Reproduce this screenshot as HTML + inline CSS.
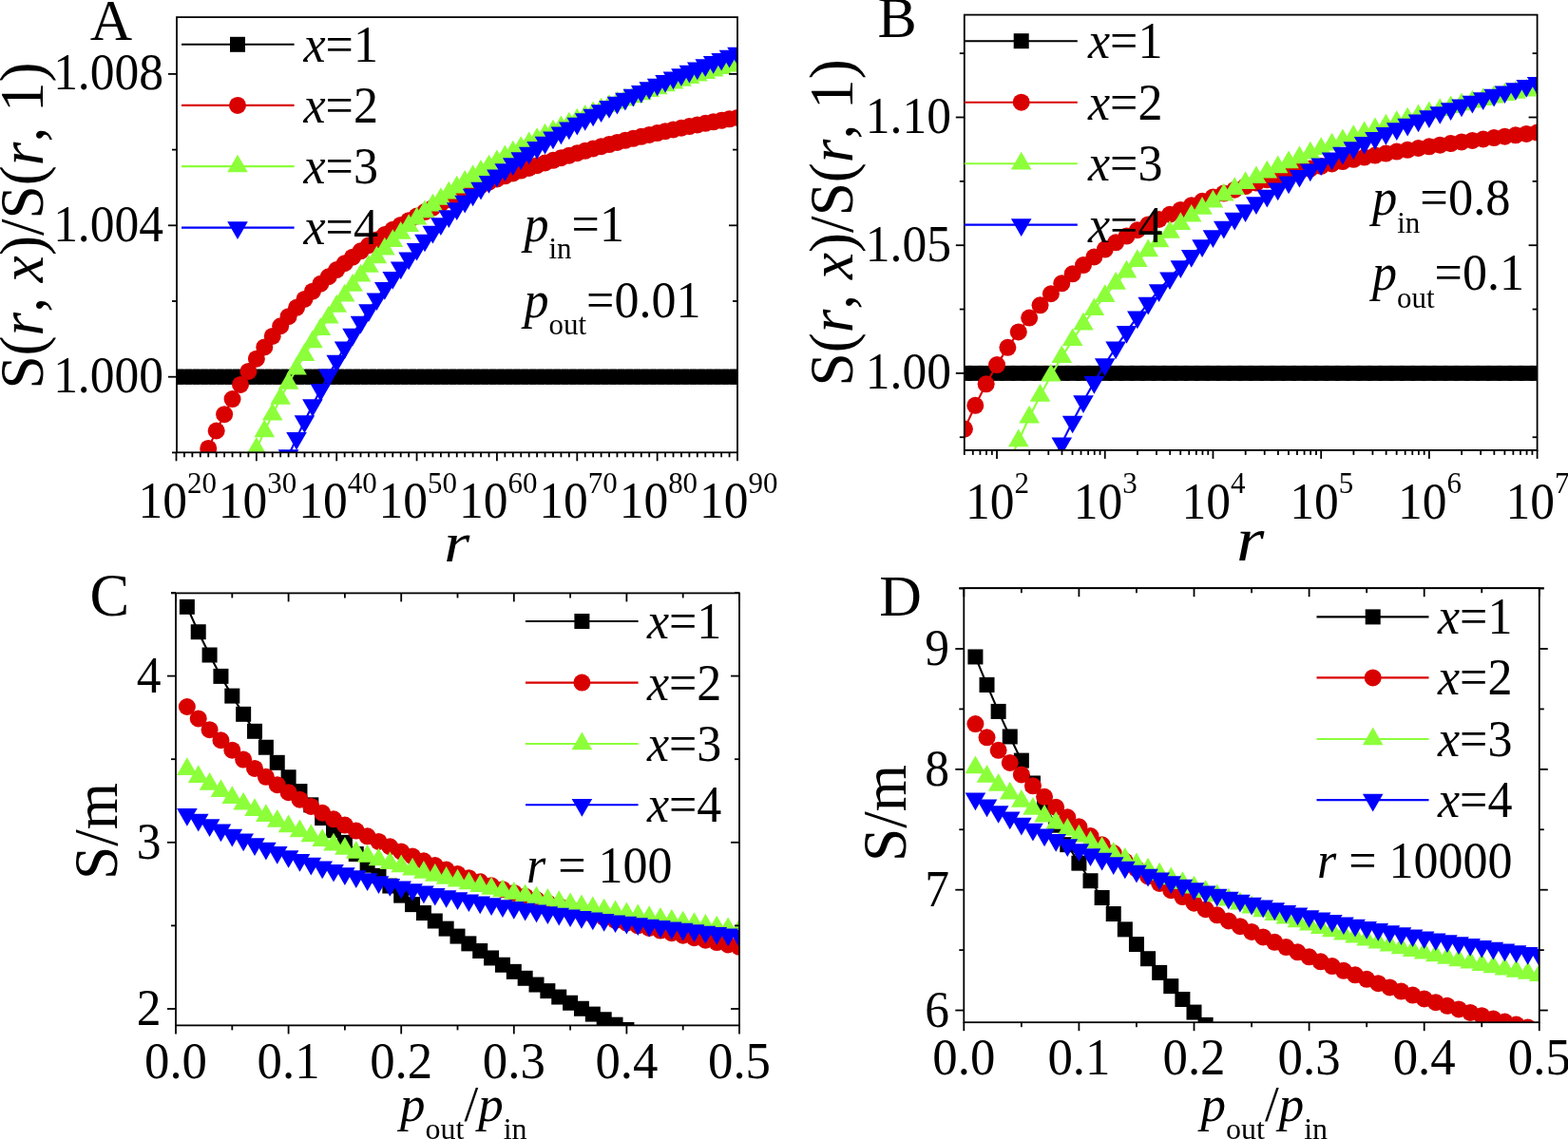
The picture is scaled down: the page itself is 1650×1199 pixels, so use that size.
<!DOCTYPE html>
<html><head><meta charset="utf-8"><title>Figure</title><style>html,body{margin:0;padding:0;background:#fff;overflow:hidden}svg{display:block}</style></head><body>
<svg width="1650" height="1199" viewBox="0 0 1650 1199" font-family="'Liberation Serif','Times New Roman',serif">
<defs>
<clipPath id="cA"><rect x="186" y="18.1" width="590" height="458.2"/></clipPath>
<clipPath id="cB"><rect x="1014.8" y="15.6" width="602.8" height="458.3"/></clipPath>
<clipPath id="cC"><rect x="185" y="624.4" width="593" height="455"/></clipPath>
<clipPath id="cD"><rect x="1014.3" y="619.2" width="605.5" height="457"/></clipPath>
</defs>
<rect width="1650" height="1199" fill="#fff"/>
<g clip-path="url(#cA)">
<polyline points="185.5,396.7 193.94,396.7 202.37,396.7 210.81,396.7 219.24,396.7 227.68,396.7 236.11,396.7 244.55,396.7 252.99,396.7 261.42,396.7 269.86,396.7 278.29,396.7 286.73,396.7 295.16,396.7 303.6,396.7 312.04,396.7 320.47,396.7 328.91,396.7 337.34,396.7 345.78,396.7 354.21,396.7 362.65,396.7 371.09,396.7 379.52,396.7 387.96,396.7 396.39,396.7 404.83,396.7 413.26,396.7 421.7,396.7 430.14,396.7 438.57,396.7 447.01,396.7 455.44,396.7 463.88,396.7 472.31,396.7 480.75,396.7 489.19,396.7 497.62,396.7 506.06,396.7 514.49,396.7 522.93,396.7 531.36,396.7 539.8,396.7 548.24,396.7 556.67,396.7 565.11,396.7 573.54,396.7 581.98,396.7 590.41,396.7 598.85,396.7 607.29,396.7 615.72,396.7 624.16,396.7 632.59,396.7 641.03,396.7 649.46,396.7 657.9,396.7 666.34,396.7 674.77,396.7 683.21,396.7 691.64,396.7 700.08,396.7 708.51,396.7 716.95,396.7 725.39,396.7 733.82,396.7 742.26,396.7 750.69,396.7 759.13,396.7 767.56,396.7 776,396.7" fill="none" stroke="#000000" stroke-width="2.1" stroke-linejoin="round"/>
<rect x="177.5" y="388.7" width="16" height="16" fill="#000000"/><rect x="185.94" y="388.7" width="16" height="16" fill="#000000"/><rect x="194.37" y="388.7" width="16" height="16" fill="#000000"/><rect x="202.81" y="388.7" width="16" height="16" fill="#000000"/><rect x="211.24" y="388.7" width="16" height="16" fill="#000000"/><rect x="219.68" y="388.7" width="16" height="16" fill="#000000"/><rect x="228.11" y="388.7" width="16" height="16" fill="#000000"/><rect x="236.55" y="388.7" width="16" height="16" fill="#000000"/><rect x="244.99" y="388.7" width="16" height="16" fill="#000000"/><rect x="253.42" y="388.7" width="16" height="16" fill="#000000"/><rect x="261.86" y="388.7" width="16" height="16" fill="#000000"/><rect x="270.29" y="388.7" width="16" height="16" fill="#000000"/><rect x="278.73" y="388.7" width="16" height="16" fill="#000000"/><rect x="287.16" y="388.7" width="16" height="16" fill="#000000"/><rect x="295.6" y="388.7" width="16" height="16" fill="#000000"/><rect x="304.04" y="388.7" width="16" height="16" fill="#000000"/><rect x="312.47" y="388.7" width="16" height="16" fill="#000000"/><rect x="320.91" y="388.7" width="16" height="16" fill="#000000"/><rect x="329.34" y="388.7" width="16" height="16" fill="#000000"/><rect x="337.78" y="388.7" width="16" height="16" fill="#000000"/><rect x="346.21" y="388.7" width="16" height="16" fill="#000000"/><rect x="354.65" y="388.7" width="16" height="16" fill="#000000"/><rect x="363.09" y="388.7" width="16" height="16" fill="#000000"/><rect x="371.52" y="388.7" width="16" height="16" fill="#000000"/><rect x="379.96" y="388.7" width="16" height="16" fill="#000000"/><rect x="388.39" y="388.7" width="16" height="16" fill="#000000"/><rect x="396.83" y="388.7" width="16" height="16" fill="#000000"/><rect x="405.26" y="388.7" width="16" height="16" fill="#000000"/><rect x="413.7" y="388.7" width="16" height="16" fill="#000000"/><rect x="422.14" y="388.7" width="16" height="16" fill="#000000"/><rect x="430.57" y="388.7" width="16" height="16" fill="#000000"/><rect x="439.01" y="388.7" width="16" height="16" fill="#000000"/><rect x="447.44" y="388.7" width="16" height="16" fill="#000000"/><rect x="455.88" y="388.7" width="16" height="16" fill="#000000"/><rect x="464.31" y="388.7" width="16" height="16" fill="#000000"/><rect x="472.75" y="388.7" width="16" height="16" fill="#000000"/><rect x="481.19" y="388.7" width="16" height="16" fill="#000000"/><rect x="489.62" y="388.7" width="16" height="16" fill="#000000"/><rect x="498.06" y="388.7" width="16" height="16" fill="#000000"/><rect x="506.49" y="388.7" width="16" height="16" fill="#000000"/><rect x="514.93" y="388.7" width="16" height="16" fill="#000000"/><rect x="523.36" y="388.7" width="16" height="16" fill="#000000"/><rect x="531.8" y="388.7" width="16" height="16" fill="#000000"/><rect x="540.24" y="388.7" width="16" height="16" fill="#000000"/><rect x="548.67" y="388.7" width="16" height="16" fill="#000000"/><rect x="557.11" y="388.7" width="16" height="16" fill="#000000"/><rect x="565.54" y="388.7" width="16" height="16" fill="#000000"/><rect x="573.98" y="388.7" width="16" height="16" fill="#000000"/><rect x="582.41" y="388.7" width="16" height="16" fill="#000000"/><rect x="590.85" y="388.7" width="16" height="16" fill="#000000"/><rect x="599.29" y="388.7" width="16" height="16" fill="#000000"/><rect x="607.72" y="388.7" width="16" height="16" fill="#000000"/><rect x="616.16" y="388.7" width="16" height="16" fill="#000000"/><rect x="624.59" y="388.7" width="16" height="16" fill="#000000"/><rect x="633.03" y="388.7" width="16" height="16" fill="#000000"/><rect x="641.46" y="388.7" width="16" height="16" fill="#000000"/><rect x="649.9" y="388.7" width="16" height="16" fill="#000000"/><rect x="658.34" y="388.7" width="16" height="16" fill="#000000"/><rect x="666.77" y="388.7" width="16" height="16" fill="#000000"/><rect x="675.21" y="388.7" width="16" height="16" fill="#000000"/><rect x="683.64" y="388.7" width="16" height="16" fill="#000000"/><rect x="692.08" y="388.7" width="16" height="16" fill="#000000"/><rect x="700.51" y="388.7" width="16" height="16" fill="#000000"/><rect x="708.95" y="388.7" width="16" height="16" fill="#000000"/><rect x="717.39" y="388.7" width="16" height="16" fill="#000000"/><rect x="725.82" y="388.7" width="16" height="16" fill="#000000"/><rect x="734.26" y="388.7" width="16" height="16" fill="#000000"/><rect x="742.69" y="388.7" width="16" height="16" fill="#000000"/><rect x="751.13" y="388.7" width="16" height="16" fill="#000000"/><rect x="759.56" y="388.7" width="16" height="16" fill="#000000"/><rect x="768" y="388.7" width="16" height="16" fill="#000000"/>
</g>
<g clip-path="url(#cA)">
<polyline points="185.5,558.92 193.94,535.09 202.37,512.7 210.81,491.68 219.24,471.97 227.68,453.5 236.11,436.22 244.55,420.07 252.99,404.97 261.42,390.88 269.86,377.72 278.29,365.43 286.73,353.96 295.16,343.24 303.6,333.21 312.04,323.8 320.47,314.96 328.91,306.63 337.34,298.75 345.78,291.26 354.21,284.12 362.65,277.26 371.09,270.66 379.52,264.32 387.96,258.26 396.39,252.49 404.83,247.01 413.26,241.82 421.7,236.88 430.14,232.14 438.57,227.56 447.01,223.11 455.44,218.75 463.88,214.5 472.31,210.36 480.75,206.33 489.19,202.44 497.62,198.69 506.06,195.09 514.49,191.65 522.93,188.38 531.36,185.29 539.8,182.38 548.24,179.61 556.67,176.88 565.11,174.17 573.54,171.49 581.98,168.84 590.41,166.24 598.85,163.7 607.29,161.24 615.72,158.84 624.16,156.51 632.59,154.24 641.03,152.04 649.46,149.9 657.9,147.82 666.34,145.79 674.77,143.82 683.21,141.91 691.64,140.04 700.08,138.23 708.51,136.47 716.95,134.75 725.39,133.08 733.82,131.45 742.26,129.86 750.69,128.31 759.13,126.8 767.56,125.33 776,123.89" fill="none" stroke="#d90000" stroke-width="2.1" stroke-linejoin="round"/>
<circle cx="185.5" cy="558.92" r="9" fill="#d90000"/><circle cx="193.94" cy="535.09" r="9" fill="#d90000"/><circle cx="202.37" cy="512.7" r="9" fill="#d90000"/><circle cx="210.81" cy="491.68" r="9" fill="#d90000"/><circle cx="219.24" cy="471.97" r="9" fill="#d90000"/><circle cx="227.68" cy="453.5" r="9" fill="#d90000"/><circle cx="236.11" cy="436.22" r="9" fill="#d90000"/><circle cx="244.55" cy="420.07" r="9" fill="#d90000"/><circle cx="252.99" cy="404.97" r="9" fill="#d90000"/><circle cx="261.42" cy="390.88" r="9" fill="#d90000"/><circle cx="269.86" cy="377.72" r="9" fill="#d90000"/><circle cx="278.29" cy="365.43" r="9" fill="#d90000"/><circle cx="286.73" cy="353.96" r="9" fill="#d90000"/><circle cx="295.16" cy="343.24" r="9" fill="#d90000"/><circle cx="303.6" cy="333.21" r="9" fill="#d90000"/><circle cx="312.04" cy="323.8" r="9" fill="#d90000"/><circle cx="320.47" cy="314.96" r="9" fill="#d90000"/><circle cx="328.91" cy="306.63" r="9" fill="#d90000"/><circle cx="337.34" cy="298.75" r="9" fill="#d90000"/><circle cx="345.78" cy="291.26" r="9" fill="#d90000"/><circle cx="354.21" cy="284.12" r="9" fill="#d90000"/><circle cx="362.65" cy="277.26" r="9" fill="#d90000"/><circle cx="371.09" cy="270.66" r="9" fill="#d90000"/><circle cx="379.52" cy="264.32" r="9" fill="#d90000"/><circle cx="387.96" cy="258.26" r="9" fill="#d90000"/><circle cx="396.39" cy="252.49" r="9" fill="#d90000"/><circle cx="404.83" cy="247.01" r="9" fill="#d90000"/><circle cx="413.26" cy="241.82" r="9" fill="#d90000"/><circle cx="421.7" cy="236.88" r="9" fill="#d90000"/><circle cx="430.14" cy="232.14" r="9" fill="#d90000"/><circle cx="438.57" cy="227.56" r="9" fill="#d90000"/><circle cx="447.01" cy="223.11" r="9" fill="#d90000"/><circle cx="455.44" cy="218.75" r="9" fill="#d90000"/><circle cx="463.88" cy="214.5" r="9" fill="#d90000"/><circle cx="472.31" cy="210.36" r="9" fill="#d90000"/><circle cx="480.75" cy="206.33" r="9" fill="#d90000"/><circle cx="489.19" cy="202.44" r="9" fill="#d90000"/><circle cx="497.62" cy="198.69" r="9" fill="#d90000"/><circle cx="506.06" cy="195.09" r="9" fill="#d90000"/><circle cx="514.49" cy="191.65" r="9" fill="#d90000"/><circle cx="522.93" cy="188.38" r="9" fill="#d90000"/><circle cx="531.36" cy="185.29" r="9" fill="#d90000"/><circle cx="539.8" cy="182.38" r="9" fill="#d90000"/><circle cx="548.24" cy="179.61" r="9" fill="#d90000"/><circle cx="556.67" cy="176.88" r="9" fill="#d90000"/><circle cx="565.11" cy="174.17" r="9" fill="#d90000"/><circle cx="573.54" cy="171.49" r="9" fill="#d90000"/><circle cx="581.98" cy="168.84" r="9" fill="#d90000"/><circle cx="590.41" cy="166.24" r="9" fill="#d90000"/><circle cx="598.85" cy="163.7" r="9" fill="#d90000"/><circle cx="607.29" cy="161.24" r="9" fill="#d90000"/><circle cx="615.72" cy="158.84" r="9" fill="#d90000"/><circle cx="624.16" cy="156.51" r="9" fill="#d90000"/><circle cx="632.59" cy="154.24" r="9" fill="#d90000"/><circle cx="641.03" cy="152.04" r="9" fill="#d90000"/><circle cx="649.46" cy="149.9" r="9" fill="#d90000"/><circle cx="657.9" cy="147.82" r="9" fill="#d90000"/><circle cx="666.34" cy="145.79" r="9" fill="#d90000"/><circle cx="674.77" cy="143.82" r="9" fill="#d90000"/><circle cx="683.21" cy="141.91" r="9" fill="#d90000"/><circle cx="691.64" cy="140.04" r="9" fill="#d90000"/><circle cx="700.08" cy="138.23" r="9" fill="#d90000"/><circle cx="708.51" cy="136.47" r="9" fill="#d90000"/><circle cx="716.95" cy="134.75" r="9" fill="#d90000"/><circle cx="725.39" cy="133.08" r="9" fill="#d90000"/><circle cx="733.82" cy="131.45" r="9" fill="#d90000"/><circle cx="742.26" cy="129.86" r="9" fill="#d90000"/><circle cx="750.69" cy="128.31" r="9" fill="#d90000"/><circle cx="759.13" cy="126.8" r="9" fill="#d90000"/><circle cx="767.56" cy="125.33" r="9" fill="#d90000"/><circle cx="776" cy="123.89" r="9" fill="#d90000"/>
</g>
<g clip-path="url(#cA)">
<polyline points="185.5,713.12 193.94,684.05 202.37,656.19 210.81,629.5 219.24,603.94 227.68,579.48 236.11,556.09 244.55,533.73 252.99,512.38 261.42,492 269.86,472.55 278.29,454.01 286.73,436.34 295.16,419.51 303.6,403.49 312.04,388.24 320.47,373.73 328.91,359.93 337.34,346.81 345.78,334.33 354.21,322.46 362.65,311.16 371.09,300.41 379.52,290.17 387.96,280.41 396.39,271.1 404.83,262.19 413.26,253.68 421.7,245.52 430.14,237.72 438.57,230.24 447.01,223.08 455.44,216.21 463.88,209.63 472.31,203.31 480.75,197.24 489.19,191.4 497.62,185.77 506.06,180.34 514.49,175.1 522.93,170.01 531.36,165.08 539.8,160.28 548.24,155.61 556.67,151.06 565.11,146.64 573.54,142.33 581.98,138.14 590.41,134.07 598.85,130.1 607.29,126.25 615.72,122.49 624.16,118.84 632.59,115.29 641.03,111.83 649.46,108.47 657.9,105.19 666.34,102 674.77,98.89 683.21,95.87 691.64,92.92 700.08,90.04 708.51,87.24 716.95,84.5 725.39,81.83 733.82,79.22 742.26,76.67 750.69,74.18 759.13,71.74 767.56,69.35 776,67" fill="none" stroke="#8cff3a" stroke-width="2.1" stroke-linejoin="round"/>
<path d="M185.5 700.65L196.3 719.35L174.7 719.35Z" fill="#8cff3a"/><path d="M193.94 671.59L204.74 690.29L183.14 690.29Z" fill="#8cff3a"/><path d="M202.37 643.73L213.17 662.43L191.57 662.43Z" fill="#8cff3a"/><path d="M210.81 617.03L221.61 635.73L200.01 635.73Z" fill="#8cff3a"/><path d="M219.24 591.47L230.04 610.17L208.44 610.17Z" fill="#8cff3a"/><path d="M227.68 567.01L238.48 585.71L216.88 585.71Z" fill="#8cff3a"/><path d="M236.11 543.62L246.91 562.32L225.31 562.32Z" fill="#8cff3a"/><path d="M244.55 521.26L255.35 539.96L233.75 539.96Z" fill="#8cff3a"/><path d="M252.99 499.91L263.79 518.61L242.19 518.61Z" fill="#8cff3a"/><path d="M261.42 479.53L272.22 498.23L250.62 498.23Z" fill="#8cff3a"/><path d="M269.86 460.08L280.66 478.78L259.06 478.78Z" fill="#8cff3a"/><path d="M278.29 441.54L289.09 460.24L267.49 460.24Z" fill="#8cff3a"/><path d="M286.73 423.88L297.53 442.58L275.93 442.58Z" fill="#8cff3a"/><path d="M295.16 407.05L305.96 425.75L284.36 425.75Z" fill="#8cff3a"/><path d="M303.6 391.02L314.4 409.72L292.8 409.72Z" fill="#8cff3a"/><path d="M312.04 375.78L322.84 394.48L301.24 394.48Z" fill="#8cff3a"/><path d="M320.47 361.27L331.27 379.97L309.67 379.97Z" fill="#8cff3a"/><path d="M328.91 347.47L339.71 366.17L318.11 366.17Z" fill="#8cff3a"/><path d="M337.34 334.34L348.14 353.04L326.54 353.04Z" fill="#8cff3a"/><path d="M345.78 321.86L356.58 340.56L334.98 340.56Z" fill="#8cff3a"/><path d="M354.21 309.99L365.01 328.69L343.41 328.69Z" fill="#8cff3a"/><path d="M362.65 298.69L373.45 317.39L351.85 317.39Z" fill="#8cff3a"/><path d="M371.09 287.94L381.89 306.64L360.29 306.64Z" fill="#8cff3a"/><path d="M379.52 277.7L390.32 296.4L368.72 296.4Z" fill="#8cff3a"/><path d="M387.96 267.94L398.76 286.64L377.16 286.64Z" fill="#8cff3a"/><path d="M396.39 258.63L407.19 277.33L385.59 277.33Z" fill="#8cff3a"/><path d="M404.83 249.73L415.63 268.43L394.03 268.43Z" fill="#8cff3a"/><path d="M413.26 241.21L424.06 259.91L402.46 259.91Z" fill="#8cff3a"/><path d="M421.7 233.06L432.5 251.76L410.9 251.76Z" fill="#8cff3a"/><path d="M430.14 225.25L440.94 243.95L419.34 243.95Z" fill="#8cff3a"/><path d="M438.57 217.77L449.37 236.47L427.77 236.47Z" fill="#8cff3a"/><path d="M447.01 210.61L457.81 229.31L436.21 229.31Z" fill="#8cff3a"/><path d="M455.44 203.75L466.24 222.45L444.64 222.45Z" fill="#8cff3a"/><path d="M463.88 197.16L474.68 215.86L453.08 215.86Z" fill="#8cff3a"/><path d="M472.31 190.84L483.11 209.54L461.51 209.54Z" fill="#8cff3a"/><path d="M480.75 184.77L491.55 203.47L469.95 203.47Z" fill="#8cff3a"/><path d="M489.19 178.93L499.99 197.63L478.39 197.63Z" fill="#8cff3a"/><path d="M497.62 173.3L508.42 192L486.82 192Z" fill="#8cff3a"/><path d="M506.06 167.88L516.86 186.58L495.26 186.58Z" fill="#8cff3a"/><path d="M514.49 162.63L525.29 181.33L503.69 181.33Z" fill="#8cff3a"/><path d="M522.93 157.55L533.73 176.25L512.13 176.25Z" fill="#8cff3a"/><path d="M531.36 152.61L542.16 171.31L520.56 171.31Z" fill="#8cff3a"/><path d="M539.8 147.81L550.6 166.51L529 166.51Z" fill="#8cff3a"/><path d="M548.24 143.14L559.04 161.84L537.44 161.84Z" fill="#8cff3a"/><path d="M556.67 138.59L567.47 157.29L545.87 157.29Z" fill="#8cff3a"/><path d="M565.11 134.17L575.91 152.87L554.31 152.87Z" fill="#8cff3a"/><path d="M573.54 129.87L584.34 148.57L562.74 148.57Z" fill="#8cff3a"/><path d="M581.98 125.68L592.78 144.38L571.18 144.38Z" fill="#8cff3a"/><path d="M590.41 121.6L601.21 140.3L579.61 140.3Z" fill="#8cff3a"/><path d="M598.85 117.64L609.65 136.34L588.05 136.34Z" fill="#8cff3a"/><path d="M607.29 113.78L618.09 132.48L596.49 132.48Z" fill="#8cff3a"/><path d="M615.72 110.03L626.52 128.73L604.92 128.73Z" fill="#8cff3a"/><path d="M624.16 106.38L634.96 125.08L613.36 125.08Z" fill="#8cff3a"/><path d="M632.59 102.82L643.39 121.52L621.79 121.52Z" fill="#8cff3a"/><path d="M641.03 99.37L651.83 118.07L630.23 118.07Z" fill="#8cff3a"/><path d="M649.46 96L660.26 114.7L638.66 114.7Z" fill="#8cff3a"/><path d="M657.9 92.72L668.7 111.42L647.1 111.42Z" fill="#8cff3a"/><path d="M666.34 89.53L677.14 108.23L655.54 108.23Z" fill="#8cff3a"/><path d="M674.77 86.43L685.57 105.13L663.97 105.13Z" fill="#8cff3a"/><path d="M683.21 83.4L694.01 102.1L672.41 102.1Z" fill="#8cff3a"/><path d="M691.64 80.45L702.44 99.15L680.84 99.15Z" fill="#8cff3a"/><path d="M700.08 77.57L710.88 96.27L689.28 96.27Z" fill="#8cff3a"/><path d="M708.51 74.77L719.31 93.47L697.71 93.47Z" fill="#8cff3a"/><path d="M716.95 72.03L727.75 90.73L706.15 90.73Z" fill="#8cff3a"/><path d="M725.39 69.36L736.19 88.06L714.59 88.06Z" fill="#8cff3a"/><path d="M733.82 66.75L744.62 85.45L723.02 85.45Z" fill="#8cff3a"/><path d="M742.26 64.21L753.06 82.91L731.46 82.91Z" fill="#8cff3a"/><path d="M750.69 61.71L761.49 80.41L739.89 80.41Z" fill="#8cff3a"/><path d="M759.13 59.27L769.93 77.97L748.33 77.97Z" fill="#8cff3a"/><path d="M767.56 56.88L778.36 75.58L756.76 75.58Z" fill="#8cff3a"/><path d="M776 54.54L786.8 73.24L765.2 73.24Z" fill="#8cff3a"/>
</g>
<g clip-path="url(#cA)">
<polyline points="185.5,832.52 193.94,800.68 202.37,769.96 210.81,740.34 219.24,711.78 227.68,684.28 236.11,657.8 244.55,632.31 252.99,607.79 261.42,584.21 269.86,561.56 278.29,539.79 286.73,518.9 295.16,498.84 303.6,479.6 312.04,461.16 320.47,443.48 328.91,426.54 337.34,410.31 345.78,394.78 354.21,379.91 362.65,365.68 371.09,352.06 379.52,339.02 387.96,326.55 396.39,314.62 404.83,303.2 413.26,292.26 421.7,281.78 430.14,271.74 438.57,262.12 447.01,252.89 455.44,244.04 463.88,235.56 472.31,227.42 480.75,219.6 489.19,212.09 497.62,204.87 506.06,197.92 514.49,191.22 522.93,184.75 531.36,178.5 539.8,172.44 548.24,166.57 556.67,160.87 565.11,155.34 573.54,149.97 581.98,144.75 590.41,139.69 598.85,134.78 607.29,130.01 615.72,125.37 624.16,120.86 632.59,116.48 641.03,112.22 649.46,108.07 657.9,104.03 666.34,100.1 674.77,96.26 683.21,92.52 691.64,88.87 700.08,85.3 708.51,81.8 716.95,78.38 725.39,75.02 733.82,71.72 742.26,68.48 750.69,65.3 759.13,62.15 767.56,59.05 776,55.98" fill="none" stroke="#0000ff" stroke-width="2.1" stroke-linejoin="round"/>
<path d="M185.5 844.98L196.3 826.28L174.7 826.28Z" fill="#0000ff"/><path d="M193.94 813.14L204.74 794.44L183.14 794.44Z" fill="#0000ff"/><path d="M202.37 782.42L213.17 763.72L191.57 763.72Z" fill="#0000ff"/><path d="M210.81 752.8L221.61 734.1L200.01 734.1Z" fill="#0000ff"/><path d="M219.24 724.25L230.04 705.55L208.44 705.55Z" fill="#0000ff"/><path d="M227.68 696.75L238.48 678.05L216.88 678.05Z" fill="#0000ff"/><path d="M236.11 670.26L246.91 651.56L225.31 651.56Z" fill="#0000ff"/><path d="M244.55 644.77L255.35 626.07L233.75 626.07Z" fill="#0000ff"/><path d="M252.99 620.25L263.79 601.55L242.19 601.55Z" fill="#0000ff"/><path d="M261.42 596.68L272.22 577.98L250.62 577.98Z" fill="#0000ff"/><path d="M269.86 574.02L280.66 555.32L259.06 555.32Z" fill="#0000ff"/><path d="M278.29 552.26L289.09 533.56L267.49 533.56Z" fill="#0000ff"/><path d="M286.73 531.36L297.53 512.66L275.93 512.66Z" fill="#0000ff"/><path d="M295.16 511.31L305.96 492.61L284.36 492.61Z" fill="#0000ff"/><path d="M303.6 492.07L314.4 473.37L292.8 473.37Z" fill="#0000ff"/><path d="M312.04 473.63L322.84 454.93L301.24 454.93Z" fill="#0000ff"/><path d="M320.47 455.95L331.27 437.25L309.67 437.25Z" fill="#0000ff"/><path d="M328.91 439.01L339.71 420.31L318.11 420.31Z" fill="#0000ff"/><path d="M337.34 422.78L348.14 404.08L326.54 404.08Z" fill="#0000ff"/><path d="M345.78 407.25L356.58 388.55L334.98 388.55Z" fill="#0000ff"/><path d="M354.21 392.37L365.01 373.67L343.41 373.67Z" fill="#0000ff"/><path d="M362.65 378.14L373.45 359.44L351.85 359.44Z" fill="#0000ff"/><path d="M371.09 364.52L381.89 345.82L360.29 345.82Z" fill="#0000ff"/><path d="M379.52 351.49L390.32 332.79L368.72 332.79Z" fill="#0000ff"/><path d="M387.96 339.02L398.76 320.32L377.16 320.32Z" fill="#0000ff"/><path d="M396.39 327.09L407.19 308.39L385.59 308.39Z" fill="#0000ff"/><path d="M404.83 315.66L415.63 296.96L394.03 296.96Z" fill="#0000ff"/><path d="M413.26 304.73L424.06 286.03L402.46 286.03Z" fill="#0000ff"/><path d="M421.7 294.25L432.5 275.55L410.9 275.55Z" fill="#0000ff"/><path d="M430.14 284.21L440.94 265.51L419.34 265.51Z" fill="#0000ff"/><path d="M438.57 274.58L449.37 255.88L427.77 255.88Z" fill="#0000ff"/><path d="M447.01 265.36L457.81 246.66L436.21 246.66Z" fill="#0000ff"/><path d="M455.44 256.51L466.24 237.81L444.64 237.81Z" fill="#0000ff"/><path d="M463.88 248.02L474.68 229.32L453.08 229.32Z" fill="#0000ff"/><path d="M472.31 239.88L483.11 221.18L461.51 221.18Z" fill="#0000ff"/><path d="M480.75 232.07L491.55 213.37L469.95 213.37Z" fill="#0000ff"/><path d="M489.19 224.56L499.99 205.86L478.39 205.86Z" fill="#0000ff"/><path d="M497.62 217.33L508.42 198.63L486.82 198.63Z" fill="#0000ff"/><path d="M506.06 210.38L516.86 191.68L495.26 191.68Z" fill="#0000ff"/><path d="M514.49 203.68L525.29 184.98L503.69 184.98Z" fill="#0000ff"/><path d="M522.93 197.22L533.73 178.52L512.13 178.52Z" fill="#0000ff"/><path d="M531.36 190.96L542.16 172.26L520.56 172.26Z" fill="#0000ff"/><path d="M539.8 184.91L550.6 166.21L529 166.21Z" fill="#0000ff"/><path d="M548.24 179.04L559.04 160.34L537.44 160.34Z" fill="#0000ff"/><path d="M556.67 173.34L567.47 154.64L545.87 154.64Z" fill="#0000ff"/><path d="M565.11 167.8L575.91 149.1L554.31 149.1Z" fill="#0000ff"/><path d="M573.54 162.43L584.34 143.73L562.74 143.73Z" fill="#0000ff"/><path d="M581.98 157.22L592.78 138.52L571.18 138.52Z" fill="#0000ff"/><path d="M590.41 152.16L601.21 133.46L579.61 133.46Z" fill="#0000ff"/><path d="M598.85 147.25L609.65 128.55L588.05 128.55Z" fill="#0000ff"/><path d="M607.29 142.47L618.09 123.77L596.49 123.77Z" fill="#0000ff"/><path d="M615.72 137.84L626.52 119.14L604.92 119.14Z" fill="#0000ff"/><path d="M624.16 133.33L634.96 114.63L613.36 114.63Z" fill="#0000ff"/><path d="M632.59 128.95L643.39 110.25L621.79 110.25Z" fill="#0000ff"/><path d="M641.03 124.69L651.83 105.99L630.23 105.99Z" fill="#0000ff"/><path d="M649.46 120.54L660.26 101.84L638.66 101.84Z" fill="#0000ff"/><path d="M657.9 116.5L668.7 97.8L647.1 97.8Z" fill="#0000ff"/><path d="M666.34 112.57L677.14 93.87L655.54 93.87Z" fill="#0000ff"/><path d="M674.77 108.73L685.57 90.03L663.97 90.03Z" fill="#0000ff"/><path d="M683.21 104.99L694.01 86.29L672.41 86.29Z" fill="#0000ff"/><path d="M691.64 101.33L702.44 82.63L680.84 82.63Z" fill="#0000ff"/><path d="M700.08 97.76L710.88 79.06L689.28 79.06Z" fill="#0000ff"/><path d="M708.51 94.27L719.31 75.57L697.71 75.57Z" fill="#0000ff"/><path d="M716.95 90.84L727.75 72.14L706.15 72.14Z" fill="#0000ff"/><path d="M725.39 87.49L736.19 68.79L714.59 68.79Z" fill="#0000ff"/><path d="M733.82 84.19L744.62 65.49L723.02 65.49Z" fill="#0000ff"/><path d="M742.26 80.95L753.06 62.25L731.46 62.25Z" fill="#0000ff"/><path d="M750.69 77.76L761.49 59.06L739.89 59.06Z" fill="#0000ff"/><path d="M759.13 74.62L769.93 55.92L748.33 55.92Z" fill="#0000ff"/><path d="M767.56 71.51L778.36 52.81L756.76 52.81Z" fill="#0000ff"/><path d="M776 68.44L786.8 49.74L765.2 49.74Z" fill="#0000ff"/>
</g>
<g clip-path="url(#cB)">
<polyline points="1014.92,392.9 1026.29,392.9 1037.66,392.9 1049.03,392.9 1060.4,392.9 1071.77,392.9 1083.15,392.9 1094.52,392.9 1105.89,392.9 1117.26,392.9 1128.63,392.9 1140,392.9 1151.37,392.9 1162.74,392.9 1174.12,392.9 1185.49,392.9 1196.86,392.9 1208.23,392.9 1219.6,392.9 1230.97,392.9 1242.34,392.9 1253.72,392.9 1265.09,392.9 1276.46,392.9 1287.83,392.9 1299.2,392.9 1310.57,392.9 1321.94,392.9 1333.32,392.9 1344.69,392.9 1356.06,392.9 1367.43,392.9 1378.8,392.9 1390.17,392.9 1401.54,392.9 1412.92,392.9 1424.29,392.9 1435.66,392.9 1447.03,392.9 1458.4,392.9 1469.77,392.9 1481.14,392.9 1492.51,392.9 1503.89,392.9 1515.26,392.9 1526.63,392.9 1538,392.9 1549.37,392.9 1560.74,392.9 1572.11,392.9 1583.49,392.9 1594.86,392.9 1606.23,392.9 1617.6,392.9" fill="none" stroke="#000000" stroke-width="2.1" stroke-linejoin="round"/>
<rect x="1006.92" y="384.9" width="16" height="16" fill="#000000"/><rect x="1018.29" y="384.9" width="16" height="16" fill="#000000"/><rect x="1029.66" y="384.9" width="16" height="16" fill="#000000"/><rect x="1041.03" y="384.9" width="16" height="16" fill="#000000"/><rect x="1052.4" y="384.9" width="16" height="16" fill="#000000"/><rect x="1063.77" y="384.9" width="16" height="16" fill="#000000"/><rect x="1075.15" y="384.9" width="16" height="16" fill="#000000"/><rect x="1086.52" y="384.9" width="16" height="16" fill="#000000"/><rect x="1097.89" y="384.9" width="16" height="16" fill="#000000"/><rect x="1109.26" y="384.9" width="16" height="16" fill="#000000"/><rect x="1120.63" y="384.9" width="16" height="16" fill="#000000"/><rect x="1132" y="384.9" width="16" height="16" fill="#000000"/><rect x="1143.37" y="384.9" width="16" height="16" fill="#000000"/><rect x="1154.74" y="384.9" width="16" height="16" fill="#000000"/><rect x="1166.12" y="384.9" width="16" height="16" fill="#000000"/><rect x="1177.49" y="384.9" width="16" height="16" fill="#000000"/><rect x="1188.86" y="384.9" width="16" height="16" fill="#000000"/><rect x="1200.23" y="384.9" width="16" height="16" fill="#000000"/><rect x="1211.6" y="384.9" width="16" height="16" fill="#000000"/><rect x="1222.97" y="384.9" width="16" height="16" fill="#000000"/><rect x="1234.34" y="384.9" width="16" height="16" fill="#000000"/><rect x="1245.72" y="384.9" width="16" height="16" fill="#000000"/><rect x="1257.09" y="384.9" width="16" height="16" fill="#000000"/><rect x="1268.46" y="384.9" width="16" height="16" fill="#000000"/><rect x="1279.83" y="384.9" width="16" height="16" fill="#000000"/><rect x="1291.2" y="384.9" width="16" height="16" fill="#000000"/><rect x="1302.57" y="384.9" width="16" height="16" fill="#000000"/><rect x="1313.94" y="384.9" width="16" height="16" fill="#000000"/><rect x="1325.32" y="384.9" width="16" height="16" fill="#000000"/><rect x="1336.69" y="384.9" width="16" height="16" fill="#000000"/><rect x="1348.06" y="384.9" width="16" height="16" fill="#000000"/><rect x="1359.43" y="384.9" width="16" height="16" fill="#000000"/><rect x="1370.8" y="384.9" width="16" height="16" fill="#000000"/><rect x="1382.17" y="384.9" width="16" height="16" fill="#000000"/><rect x="1393.54" y="384.9" width="16" height="16" fill="#000000"/><rect x="1404.92" y="384.9" width="16" height="16" fill="#000000"/><rect x="1416.29" y="384.9" width="16" height="16" fill="#000000"/><rect x="1427.66" y="384.9" width="16" height="16" fill="#000000"/><rect x="1439.03" y="384.9" width="16" height="16" fill="#000000"/><rect x="1450.4" y="384.9" width="16" height="16" fill="#000000"/><rect x="1461.77" y="384.9" width="16" height="16" fill="#000000"/><rect x="1473.14" y="384.9" width="16" height="16" fill="#000000"/><rect x="1484.51" y="384.9" width="16" height="16" fill="#000000"/><rect x="1495.89" y="384.9" width="16" height="16" fill="#000000"/><rect x="1507.26" y="384.9" width="16" height="16" fill="#000000"/><rect x="1518.63" y="384.9" width="16" height="16" fill="#000000"/><rect x="1530" y="384.9" width="16" height="16" fill="#000000"/><rect x="1541.37" y="384.9" width="16" height="16" fill="#000000"/><rect x="1552.74" y="384.9" width="16" height="16" fill="#000000"/><rect x="1564.11" y="384.9" width="16" height="16" fill="#000000"/><rect x="1575.49" y="384.9" width="16" height="16" fill="#000000"/><rect x="1586.86" y="384.9" width="16" height="16" fill="#000000"/><rect x="1598.23" y="384.9" width="16" height="16" fill="#000000"/><rect x="1609.6" y="384.9" width="16" height="16" fill="#000000"/>
</g>
<g clip-path="url(#cB)">
<polyline points="1014.92,451.56 1026.29,426.77 1037.66,404.33 1049.03,384.08 1060.4,365.82 1071.77,349.39 1083.15,334.6 1094.52,321.28 1105.89,309.24 1117.26,298.3 1128.63,288.29 1140,279.05 1151.37,270.51 1162.74,262.61 1174.12,255.3 1185.49,248.52 1196.86,242.24 1208.23,236.38 1219.6,230.91 1230.97,225.76 1242.34,220.89 1253.72,216.25 1265.09,211.82 1276.46,207.6 1287.83,203.58 1299.2,199.75 1310.57,196.1 1321.94,192.62 1333.32,189.31 1344.69,186.16 1356.06,183.15 1367.43,180.29 1378.8,177.56 1390.17,174.95 1401.54,172.46 1412.92,170.08 1424.29,167.8 1435.66,165.62 1447.03,163.53 1458.4,161.53 1469.77,159.61 1481.14,157.77 1492.51,155.99 1503.89,154.28 1515.26,152.63 1526.63,151.03 1538,149.48 1549.37,147.98 1560.74,146.51 1572.11,145.08 1583.49,143.67 1594.86,142.28 1606.23,140.91 1617.6,139.55" fill="none" stroke="#d90000" stroke-width="2.1" stroke-linejoin="round"/>
<circle cx="1014.92" cy="451.56" r="9" fill="#d90000"/><circle cx="1026.29" cy="426.77" r="9" fill="#d90000"/><circle cx="1037.66" cy="404.33" r="9" fill="#d90000"/><circle cx="1049.03" cy="384.08" r="9" fill="#d90000"/><circle cx="1060.4" cy="365.82" r="9" fill="#d90000"/><circle cx="1071.77" cy="349.39" r="9" fill="#d90000"/><circle cx="1083.15" cy="334.6" r="9" fill="#d90000"/><circle cx="1094.52" cy="321.28" r="9" fill="#d90000"/><circle cx="1105.89" cy="309.24" r="9" fill="#d90000"/><circle cx="1117.26" cy="298.3" r="9" fill="#d90000"/><circle cx="1128.63" cy="288.29" r="9" fill="#d90000"/><circle cx="1140" cy="279.05" r="9" fill="#d90000"/><circle cx="1151.37" cy="270.51" r="9" fill="#d90000"/><circle cx="1162.74" cy="262.61" r="9" fill="#d90000"/><circle cx="1174.12" cy="255.3" r="9" fill="#d90000"/><circle cx="1185.49" cy="248.52" r="9" fill="#d90000"/><circle cx="1196.86" cy="242.24" r="9" fill="#d90000"/><circle cx="1208.23" cy="236.38" r="9" fill="#d90000"/><circle cx="1219.6" cy="230.91" r="9" fill="#d90000"/><circle cx="1230.97" cy="225.76" r="9" fill="#d90000"/><circle cx="1242.34" cy="220.89" r="9" fill="#d90000"/><circle cx="1253.72" cy="216.25" r="9" fill="#d90000"/><circle cx="1265.09" cy="211.82" r="9" fill="#d90000"/><circle cx="1276.46" cy="207.6" r="9" fill="#d90000"/><circle cx="1287.83" cy="203.58" r="9" fill="#d90000"/><circle cx="1299.2" cy="199.75" r="9" fill="#d90000"/><circle cx="1310.57" cy="196.1" r="9" fill="#d90000"/><circle cx="1321.94" cy="192.62" r="9" fill="#d90000"/><circle cx="1333.32" cy="189.31" r="9" fill="#d90000"/><circle cx="1344.69" cy="186.16" r="9" fill="#d90000"/><circle cx="1356.06" cy="183.15" r="9" fill="#d90000"/><circle cx="1367.43" cy="180.29" r="9" fill="#d90000"/><circle cx="1378.8" cy="177.56" r="9" fill="#d90000"/><circle cx="1390.17" cy="174.95" r="9" fill="#d90000"/><circle cx="1401.54" cy="172.46" r="9" fill="#d90000"/><circle cx="1412.92" cy="170.08" r="9" fill="#d90000"/><circle cx="1424.29" cy="167.8" r="9" fill="#d90000"/><circle cx="1435.66" cy="165.62" r="9" fill="#d90000"/><circle cx="1447.03" cy="163.53" r="9" fill="#d90000"/><circle cx="1458.4" cy="161.53" r="9" fill="#d90000"/><circle cx="1469.77" cy="159.61" r="9" fill="#d90000"/><circle cx="1481.14" cy="157.77" r="9" fill="#d90000"/><circle cx="1492.51" cy="155.99" r="9" fill="#d90000"/><circle cx="1503.89" cy="154.28" r="9" fill="#d90000"/><circle cx="1515.26" cy="152.63" r="9" fill="#d90000"/><circle cx="1526.63" cy="151.03" r="9" fill="#d90000"/><circle cx="1538" cy="149.48" r="9" fill="#d90000"/><circle cx="1549.37" cy="147.98" r="9" fill="#d90000"/><circle cx="1560.74" cy="146.51" r="9" fill="#d90000"/><circle cx="1572.11" cy="145.08" r="9" fill="#d90000"/><circle cx="1583.49" cy="143.67" r="9" fill="#d90000"/><circle cx="1594.86" cy="142.28" r="9" fill="#d90000"/><circle cx="1606.23" cy="140.91" r="9" fill="#d90000"/><circle cx="1617.6" cy="139.55" r="9" fill="#d90000"/>
</g>
<g clip-path="url(#cB)">
<polyline points="1014.92,618.73 1026.29,583.21 1037.66,550.08 1049.03,519.24 1060.4,490.58 1071.77,463.97 1083.15,439.31 1094.52,416.48 1105.89,395.37 1117.26,375.87 1128.63,357.86 1140,341.23 1151.37,325.87 1162.74,311.65 1174.12,298.48 1185.49,286.23 1196.86,274.79 1208.23,264.06 1219.6,253.99 1230.97,244.54 1242.34,235.68 1253.72,227.36 1265.09,219.56 1276.46,212.22 1287.83,205.32 1299.2,198.82 1310.57,192.67 1321.94,186.84 1333.32,181.3 1344.69,176 1356.06,170.91 1367.43,165.99 1378.8,161.24 1390.17,156.66 1401.54,152.23 1412.92,147.95 1424.29,143.83 1435.66,139.85 1447.03,136.01 1458.4,132.32 1469.77,128.76 1481.14,125.33 1492.51,122.03 1503.89,118.85 1515.26,115.8 1526.63,112.86 1538,110.03 1549.37,107.31 1560.74,104.7 1572.11,102.19 1583.49,99.77 1594.86,97.45 1606.23,95.22 1617.6,93.08" fill="none" stroke="#8cff3a" stroke-width="2.1" stroke-linejoin="round"/>
<path d="M1014.92 606.27L1025.72 624.97L1004.12 624.97Z" fill="#8cff3a"/><path d="M1026.29 570.74L1037.09 589.44L1015.49 589.44Z" fill="#8cff3a"/><path d="M1037.66 537.62L1048.46 556.32L1026.86 556.32Z" fill="#8cff3a"/><path d="M1049.03 506.78L1059.83 525.48L1038.23 525.48Z" fill="#8cff3a"/><path d="M1060.4 478.11L1071.2 496.81L1049.6 496.81Z" fill="#8cff3a"/><path d="M1071.77 451.5L1082.57 470.2L1060.97 470.2Z" fill="#8cff3a"/><path d="M1083.15 426.84L1093.95 445.54L1072.35 445.54Z" fill="#8cff3a"/><path d="M1094.52 404.02L1105.32 422.72L1083.72 422.72Z" fill="#8cff3a"/><path d="M1105.89 382.91L1116.69 401.61L1095.09 401.61Z" fill="#8cff3a"/><path d="M1117.26 363.41L1128.06 382.11L1106.46 382.11Z" fill="#8cff3a"/><path d="M1128.63 345.4L1139.43 364.1L1117.83 364.1Z" fill="#8cff3a"/><path d="M1140 328.77L1150.8 347.47L1129.2 347.47Z" fill="#8cff3a"/><path d="M1151.37 313.4L1162.17 332.1L1140.57 332.1Z" fill="#8cff3a"/><path d="M1162.74 299.19L1173.54 317.89L1151.94 317.89Z" fill="#8cff3a"/><path d="M1174.12 286.01L1184.92 304.71L1163.32 304.71Z" fill="#8cff3a"/><path d="M1185.49 273.76L1196.29 292.46L1174.69 292.46Z" fill="#8cff3a"/><path d="M1196.86 262.32L1207.66 281.02L1186.06 281.02Z" fill="#8cff3a"/><path d="M1208.23 251.59L1219.03 270.29L1197.43 270.29Z" fill="#8cff3a"/><path d="M1219.6 241.52L1230.4 260.22L1208.8 260.22Z" fill="#8cff3a"/><path d="M1230.97 232.07L1241.77 250.77L1220.17 250.77Z" fill="#8cff3a"/><path d="M1242.34 223.21L1253.14 241.91L1231.54 241.91Z" fill="#8cff3a"/><path d="M1253.72 214.9L1264.52 233.6L1242.92 233.6Z" fill="#8cff3a"/><path d="M1265.09 207.09L1275.89 225.79L1254.29 225.79Z" fill="#8cff3a"/><path d="M1276.46 199.76L1287.26 218.46L1265.66 218.46Z" fill="#8cff3a"/><path d="M1287.83 192.85L1298.63 211.55L1277.03 211.55Z" fill="#8cff3a"/><path d="M1299.2 186.35L1310 205.05L1288.4 205.05Z" fill="#8cff3a"/><path d="M1310.57 180.2L1321.37 198.9L1299.77 198.9Z" fill="#8cff3a"/><path d="M1321.94 174.38L1332.74 193.08L1311.14 193.08Z" fill="#8cff3a"/><path d="M1333.32 168.83L1344.12 187.53L1322.52 187.53Z" fill="#8cff3a"/><path d="M1344.69 163.53L1355.49 182.23L1333.89 182.23Z" fill="#8cff3a"/><path d="M1356.06 158.44L1366.86 177.14L1345.26 177.14Z" fill="#8cff3a"/><path d="M1367.43 153.53L1378.23 172.23L1356.63 172.23Z" fill="#8cff3a"/><path d="M1378.8 148.78L1389.6 167.48L1368 167.48Z" fill="#8cff3a"/><path d="M1390.17 144.19L1400.97 162.89L1379.37 162.89Z" fill="#8cff3a"/><path d="M1401.54 139.76L1412.34 158.46L1390.74 158.46Z" fill="#8cff3a"/><path d="M1412.92 135.48L1423.72 154.18L1402.12 154.18Z" fill="#8cff3a"/><path d="M1424.29 131.36L1435.09 150.06L1413.49 150.06Z" fill="#8cff3a"/><path d="M1435.66 127.38L1446.46 146.08L1424.86 146.08Z" fill="#8cff3a"/><path d="M1447.03 123.55L1457.83 142.25L1436.23 142.25Z" fill="#8cff3a"/><path d="M1458.4 119.85L1469.2 138.55L1447.6 138.55Z" fill="#8cff3a"/><path d="M1469.77 116.29L1480.57 134.99L1458.97 134.99Z" fill="#8cff3a"/><path d="M1481.14 112.86L1491.94 131.56L1470.34 131.56Z" fill="#8cff3a"/><path d="M1492.51 109.56L1503.31 128.26L1481.71 128.26Z" fill="#8cff3a"/><path d="M1503.89 106.38L1514.69 125.08L1493.09 125.08Z" fill="#8cff3a"/><path d="M1515.26 103.33L1526.06 122.03L1504.46 122.03Z" fill="#8cff3a"/><path d="M1526.63 100.39L1537.43 119.09L1515.83 119.09Z" fill="#8cff3a"/><path d="M1538 97.56L1548.8 116.26L1527.2 116.26Z" fill="#8cff3a"/><path d="M1549.37 94.84L1560.17 113.54L1538.57 113.54Z" fill="#8cff3a"/><path d="M1560.74 92.23L1571.54 110.93L1549.94 110.93Z" fill="#8cff3a"/><path d="M1572.11 89.72L1582.91 108.42L1561.31 108.42Z" fill="#8cff3a"/><path d="M1583.49 87.31L1594.29 106.01L1572.69 106.01Z" fill="#8cff3a"/><path d="M1594.86 84.99L1605.66 103.69L1584.06 103.69Z" fill="#8cff3a"/><path d="M1606.23 82.76L1617.03 101.46L1595.43 101.46Z" fill="#8cff3a"/><path d="M1617.6 80.61L1628.4 99.31L1606.8 99.31Z" fill="#8cff3a"/>
</g>
<g clip-path="url(#cB)">
<polyline points="1014.92,745.52 1026.29,707.19 1037.66,670.86 1049.03,636.45 1060.4,603.91 1071.77,573.16 1083.15,544.13 1094.52,516.75 1105.89,490.97 1117.26,466.7 1128.63,443.89 1140,422.46 1151.37,402.34 1162.74,383.47 1174.12,365.78 1185.49,349.2 1196.86,333.66 1208.23,319.1 1219.6,305.44 1230.97,292.62 1242.34,280.57 1253.72,269.22 1265.09,258.53 1276.46,248.46 1287.83,238.97 1299.2,230.01 1310.57,221.54 1321.94,213.53 1333.32,205.93 1344.69,198.69 1356.06,191.78 1367.43,185.16 1378.8,178.78 1390.17,172.64 1401.54,166.73 1412.92,161.04 1424.29,155.56 1435.66,150.28 1447.03,145.2 1458.4,140.31 1469.77,135.6 1481.14,131.06 1492.51,126.68 1503.89,122.46 1515.26,118.39 1526.63,114.46 1538,110.66 1549.37,106.99 1560.74,103.43 1572.11,99.99 1583.49,96.64 1594.86,93.39 1606.23,90.22 1617.6,87.14" fill="none" stroke="#0000ff" stroke-width="2.1" stroke-linejoin="round"/>
<path d="M1014.92 757.99L1025.72 739.29L1004.12 739.29Z" fill="#0000ff"/><path d="M1026.29 719.66L1037.09 700.96L1015.49 700.96Z" fill="#0000ff"/><path d="M1037.66 683.32L1048.46 664.62L1026.86 664.62Z" fill="#0000ff"/><path d="M1049.03 648.92L1059.83 630.22L1038.23 630.22Z" fill="#0000ff"/><path d="M1060.4 616.37L1071.2 597.67L1049.6 597.67Z" fill="#0000ff"/><path d="M1071.77 585.62L1082.57 566.92L1060.97 566.92Z" fill="#0000ff"/><path d="M1083.15 556.59L1093.95 537.89L1072.35 537.89Z" fill="#0000ff"/><path d="M1094.52 529.22L1105.32 510.52L1083.72 510.52Z" fill="#0000ff"/><path d="M1105.89 503.44L1116.69 484.74L1095.09 484.74Z" fill="#0000ff"/><path d="M1117.26 479.17L1128.06 460.47L1106.46 460.47Z" fill="#0000ff"/><path d="M1128.63 456.36L1139.43 437.66L1117.83 437.66Z" fill="#0000ff"/><path d="M1140 434.93L1150.8 416.23L1129.2 416.23Z" fill="#0000ff"/><path d="M1151.37 414.81L1162.17 396.11L1140.57 396.11Z" fill="#0000ff"/><path d="M1162.74 395.94L1173.54 377.24L1151.94 377.24Z" fill="#0000ff"/><path d="M1174.12 378.25L1184.92 359.55L1163.32 359.55Z" fill="#0000ff"/><path d="M1185.49 361.67L1196.29 342.97L1174.69 342.97Z" fill="#0000ff"/><path d="M1196.86 346.13L1207.66 327.43L1186.06 327.43Z" fill="#0000ff"/><path d="M1208.23 331.57L1219.03 312.87L1197.43 312.87Z" fill="#0000ff"/><path d="M1219.6 317.91L1230.4 299.21L1208.8 299.21Z" fill="#0000ff"/><path d="M1230.97 305.08L1241.77 286.38L1220.17 286.38Z" fill="#0000ff"/><path d="M1242.34 293.03L1253.14 274.33L1231.54 274.33Z" fill="#0000ff"/><path d="M1253.72 281.69L1264.52 262.99L1242.92 262.99Z" fill="#0000ff"/><path d="M1265.09 271L1275.89 252.3L1254.29 252.3Z" fill="#0000ff"/><path d="M1276.46 260.93L1287.26 242.23L1265.66 242.23Z" fill="#0000ff"/><path d="M1287.83 251.44L1298.63 232.74L1277.03 232.74Z" fill="#0000ff"/><path d="M1299.2 242.48L1310 223.78L1288.4 223.78Z" fill="#0000ff"/><path d="M1310.57 234.01L1321.37 215.31L1299.77 215.31Z" fill="#0000ff"/><path d="M1321.94 226L1332.74 207.3L1311.14 207.3Z" fill="#0000ff"/><path d="M1333.32 218.39L1344.12 199.69L1322.52 199.69Z" fill="#0000ff"/><path d="M1344.69 211.16L1355.49 192.46L1333.89 192.46Z" fill="#0000ff"/><path d="M1356.06 204.25L1366.86 185.55L1345.26 185.55Z" fill="#0000ff"/><path d="M1367.43 197.62L1378.23 178.92L1356.63 178.92Z" fill="#0000ff"/><path d="M1378.8 191.25L1389.6 172.55L1368 172.55Z" fill="#0000ff"/><path d="M1390.17 185.11L1400.97 166.41L1379.37 166.41Z" fill="#0000ff"/><path d="M1401.54 179.2L1412.34 160.5L1390.74 160.5Z" fill="#0000ff"/><path d="M1412.92 173.5L1423.72 154.8L1402.12 154.8Z" fill="#0000ff"/><path d="M1424.29 168.02L1435.09 149.32L1413.49 149.32Z" fill="#0000ff"/><path d="M1435.66 162.75L1446.46 144.05L1424.86 144.05Z" fill="#0000ff"/><path d="M1447.03 157.67L1457.83 138.97L1436.23 138.97Z" fill="#0000ff"/><path d="M1458.4 152.77L1469.2 134.07L1447.6 134.07Z" fill="#0000ff"/><path d="M1469.77 148.06L1480.57 129.36L1458.97 129.36Z" fill="#0000ff"/><path d="M1481.14 143.52L1491.94 124.82L1470.34 124.82Z" fill="#0000ff"/><path d="M1492.51 139.15L1503.31 120.45L1481.71 120.45Z" fill="#0000ff"/><path d="M1503.89 134.93L1514.69 116.23L1493.09 116.23Z" fill="#0000ff"/><path d="M1515.26 130.86L1526.06 112.16L1504.46 112.16Z" fill="#0000ff"/><path d="M1526.63 126.93L1537.43 108.23L1515.83 108.23Z" fill="#0000ff"/><path d="M1538 123.13L1548.8 104.43L1527.2 104.43Z" fill="#0000ff"/><path d="M1549.37 119.46L1560.17 100.76L1538.57 100.76Z" fill="#0000ff"/><path d="M1560.74 115.9L1571.54 97.2L1549.94 97.2Z" fill="#0000ff"/><path d="M1572.11 112.46L1582.91 93.76L1561.31 93.76Z" fill="#0000ff"/><path d="M1583.49 109.11L1594.29 90.41L1572.69 90.41Z" fill="#0000ff"/><path d="M1594.86 105.86L1605.66 87.16L1584.06 87.16Z" fill="#0000ff"/><path d="M1606.23 102.69L1617.03 83.99L1595.43 83.99Z" fill="#0000ff"/><path d="M1617.6 99.6L1628.4 80.9L1606.8 80.9Z" fill="#0000ff"/>
</g>
<g clip-path="url(#cC)">
<polyline points="196.86,638.83 208.72,665.23 220.58,689.51 232.44,711.89 244.3,732.6 256.16,751.82 268.02,769.79 279.88,786.72 291.74,802.81 303.6,818.24 315.46,833.08 327.32,847.34 339.18,861.04 351.04,874.2 362.9,886.86 374.76,899.02 386.62,910.7 398.48,921.88 410.34,932.53 422.2,942.62 434.06,952.13 445.92,961.04 457.78,969.49 469.64,977.63 481.5,985.58 493.36,993.37 505.22,1001 517.08,1008.45 528.94,1015.74 540.8,1022.85 552.66,1029.79 564.52,1036.55 576.38,1043.13 588.24,1049.53 600.1,1055.74 611.96,1061.77 623.82,1067.6 635.68,1073.25 647.54,1078.69 659.4,1083.94 671.26,1088.99 683.12,1093.84 694.98,1098.49 706.84,1102.92 718.7,1107.15 730.56,1111.16 742.42,1114.96 754.28,1118.54 766.14,1121.9 778,1125.04" fill="none" stroke="#000000" stroke-width="2.1" stroke-linejoin="round"/>
<rect x="188.86" y="630.83" width="16" height="16" fill="#000000"/><rect x="200.72" y="657.23" width="16" height="16" fill="#000000"/><rect x="212.58" y="681.51" width="16" height="16" fill="#000000"/><rect x="224.44" y="703.89" width="16" height="16" fill="#000000"/><rect x="236.3" y="724.6" width="16" height="16" fill="#000000"/><rect x="248.16" y="743.82" width="16" height="16" fill="#000000"/><rect x="260.02" y="761.79" width="16" height="16" fill="#000000"/><rect x="271.88" y="778.72" width="16" height="16" fill="#000000"/><rect x="283.74" y="794.81" width="16" height="16" fill="#000000"/><rect x="295.6" y="810.24" width="16" height="16" fill="#000000"/><rect x="307.46" y="825.08" width="16" height="16" fill="#000000"/><rect x="319.32" y="839.34" width="16" height="16" fill="#000000"/><rect x="331.18" y="853.04" width="16" height="16" fill="#000000"/><rect x="343.04" y="866.2" width="16" height="16" fill="#000000"/><rect x="354.9" y="878.86" width="16" height="16" fill="#000000"/><rect x="366.76" y="891.02" width="16" height="16" fill="#000000"/><rect x="378.62" y="902.7" width="16" height="16" fill="#000000"/><rect x="390.48" y="913.88" width="16" height="16" fill="#000000"/><rect x="402.34" y="924.53" width="16" height="16" fill="#000000"/><rect x="414.2" y="934.62" width="16" height="16" fill="#000000"/><rect x="426.06" y="944.13" width="16" height="16" fill="#000000"/><rect x="437.92" y="953.04" width="16" height="16" fill="#000000"/><rect x="449.78" y="961.49" width="16" height="16" fill="#000000"/><rect x="461.64" y="969.63" width="16" height="16" fill="#000000"/><rect x="473.5" y="977.58" width="16" height="16" fill="#000000"/><rect x="485.36" y="985.37" width="16" height="16" fill="#000000"/><rect x="497.22" y="993" width="16" height="16" fill="#000000"/><rect x="509.08" y="1000.45" width="16" height="16" fill="#000000"/><rect x="520.94" y="1007.74" width="16" height="16" fill="#000000"/><rect x="532.8" y="1014.85" width="16" height="16" fill="#000000"/><rect x="544.66" y="1021.79" width="16" height="16" fill="#000000"/><rect x="556.52" y="1028.55" width="16" height="16" fill="#000000"/><rect x="568.38" y="1035.13" width="16" height="16" fill="#000000"/><rect x="580.24" y="1041.53" width="16" height="16" fill="#000000"/><rect x="592.1" y="1047.74" width="16" height="16" fill="#000000"/><rect x="603.96" y="1053.77" width="16" height="16" fill="#000000"/><rect x="615.82" y="1059.6" width="16" height="16" fill="#000000"/><rect x="627.68" y="1065.25" width="16" height="16" fill="#000000"/><rect x="639.54" y="1070.69" width="16" height="16" fill="#000000"/><rect x="651.4" y="1075.94" width="16" height="16" fill="#000000"/><rect x="663.26" y="1080.99" width="16" height="16" fill="#000000"/><rect x="675.12" y="1085.84" width="16" height="16" fill="#000000"/><rect x="686.98" y="1090.49" width="16" height="16" fill="#000000"/><rect x="698.84" y="1094.92" width="16" height="16" fill="#000000"/><rect x="710.7" y="1099.15" width="16" height="16" fill="#000000"/><rect x="722.56" y="1103.16" width="16" height="16" fill="#000000"/><rect x="734.42" y="1106.96" width="16" height="16" fill="#000000"/><rect x="746.28" y="1110.54" width="16" height="16" fill="#000000"/><rect x="758.14" y="1113.9" width="16" height="16" fill="#000000"/><rect x="770" y="1117.04" width="16" height="16" fill="#000000"/>
</g>
<g clip-path="url(#cC)">
<polyline points="196.86,744 208.72,756.43 220.58,768.16 232.44,779.24 244.3,789.71 256.16,799.61 268.02,808.96 279.88,817.81 291.74,826.19 303.6,834.15 315.46,841.71 327.32,848.9 339.18,855.76 351.04,862.3 362.9,868.56 374.76,874.56 386.62,880.32 398.48,885.88 410.34,891.25 422.2,896.45 434.06,901.47 445.92,906.33 457.78,911.04 469.64,915.58 481.5,919.98 493.36,924.23 505.22,928.35 517.08,932.33 528.94,936.18 540.8,939.91 552.66,943.53 564.52,947.03 576.38,950.42 588.24,953.71 600.1,956.91 611.96,960.01 623.82,963.03 635.68,965.96 647.54,968.83 659.4,971.62 671.26,974.34 683.12,977.01 694.98,979.62 706.84,982.18 718.7,984.7 730.56,987.18 742.42,989.63 754.28,992.04 766.14,994.44 778,996.82" fill="none" stroke="#d90000" stroke-width="2.1" stroke-linejoin="round"/>
<circle cx="196.86" cy="744" r="9" fill="#d90000"/><circle cx="208.72" cy="756.43" r="9" fill="#d90000"/><circle cx="220.58" cy="768.16" r="9" fill="#d90000"/><circle cx="232.44" cy="779.24" r="9" fill="#d90000"/><circle cx="244.3" cy="789.71" r="9" fill="#d90000"/><circle cx="256.16" cy="799.61" r="9" fill="#d90000"/><circle cx="268.02" cy="808.96" r="9" fill="#d90000"/><circle cx="279.88" cy="817.81" r="9" fill="#d90000"/><circle cx="291.74" cy="826.19" r="9" fill="#d90000"/><circle cx="303.6" cy="834.15" r="9" fill="#d90000"/><circle cx="315.46" cy="841.71" r="9" fill="#d90000"/><circle cx="327.32" cy="848.9" r="9" fill="#d90000"/><circle cx="339.18" cy="855.76" r="9" fill="#d90000"/><circle cx="351.04" cy="862.3" r="9" fill="#d90000"/><circle cx="362.9" cy="868.56" r="9" fill="#d90000"/><circle cx="374.76" cy="874.56" r="9" fill="#d90000"/><circle cx="386.62" cy="880.32" r="9" fill="#d90000"/><circle cx="398.48" cy="885.88" r="9" fill="#d90000"/><circle cx="410.34" cy="891.25" r="9" fill="#d90000"/><circle cx="422.2" cy="896.45" r="9" fill="#d90000"/><circle cx="434.06" cy="901.47" r="9" fill="#d90000"/><circle cx="445.92" cy="906.33" r="9" fill="#d90000"/><circle cx="457.78" cy="911.04" r="9" fill="#d90000"/><circle cx="469.64" cy="915.58" r="9" fill="#d90000"/><circle cx="481.5" cy="919.98" r="9" fill="#d90000"/><circle cx="493.36" cy="924.23" r="9" fill="#d90000"/><circle cx="505.22" cy="928.35" r="9" fill="#d90000"/><circle cx="517.08" cy="932.33" r="9" fill="#d90000"/><circle cx="528.94" cy="936.18" r="9" fill="#d90000"/><circle cx="540.8" cy="939.91" r="9" fill="#d90000"/><circle cx="552.66" cy="943.53" r="9" fill="#d90000"/><circle cx="564.52" cy="947.03" r="9" fill="#d90000"/><circle cx="576.38" cy="950.42" r="9" fill="#d90000"/><circle cx="588.24" cy="953.71" r="9" fill="#d90000"/><circle cx="600.1" cy="956.91" r="9" fill="#d90000"/><circle cx="611.96" cy="960.01" r="9" fill="#d90000"/><circle cx="623.82" cy="963.03" r="9" fill="#d90000"/><circle cx="635.68" cy="965.96" r="9" fill="#d90000"/><circle cx="647.54" cy="968.83" r="9" fill="#d90000"/><circle cx="659.4" cy="971.62" r="9" fill="#d90000"/><circle cx="671.26" cy="974.34" r="9" fill="#d90000"/><circle cx="683.12" cy="977.01" r="9" fill="#d90000"/><circle cx="694.98" cy="979.62" r="9" fill="#d90000"/><circle cx="706.84" cy="982.18" r="9" fill="#d90000"/><circle cx="718.7" cy="984.7" r="9" fill="#d90000"/><circle cx="730.56" cy="987.18" r="9" fill="#d90000"/><circle cx="742.42" cy="989.63" r="9" fill="#d90000"/><circle cx="754.28" cy="992.04" r="9" fill="#d90000"/><circle cx="766.14" cy="994.44" r="9" fill="#d90000"/><circle cx="778" cy="996.82" r="9" fill="#d90000"/>
</g>
<g clip-path="url(#cC)">
<polyline points="196.86,809.73 208.72,817.76 220.58,825.43 232.44,832.74 244.3,839.72 256.16,846.36 268.02,852.68 279.88,858.71 291.74,864.44 303.6,869.9 315.46,875.09 327.32,880.03 339.18,884.73 351.04,889.21 362.9,893.48 374.76,897.54 386.62,901.42 398.48,905.13 410.34,908.68 422.2,912.07 434.06,915.34 445.92,918.48 457.78,921.52 469.64,924.46 481.5,927.31 493.36,930.08 505.22,932.78 517.08,935.41 528.94,937.96 540.8,940.44 552.66,942.85 564.52,945.2 576.38,947.49 588.24,949.72 600.1,951.89 611.96,954.01 623.82,956.08 635.68,958.1 647.54,960.08 659.4,962.01 671.26,963.9 683.12,965.75 694.98,967.57 706.84,969.35 718.7,971.11 730.56,972.84 742.42,974.54 754.28,976.22 766.14,977.88 778,979.52" fill="none" stroke="#8cff3a" stroke-width="2.1" stroke-linejoin="round"/>
<path d="M196.86 797.26L207.66 815.96L186.06 815.96Z" fill="#8cff3a"/><path d="M208.72 805.3L219.52 824L197.92 824Z" fill="#8cff3a"/><path d="M220.58 812.96L231.38 831.66L209.78 831.66Z" fill="#8cff3a"/><path d="M232.44 820.28L243.24 838.98L221.64 838.98Z" fill="#8cff3a"/><path d="M244.3 827.25L255.1 845.95L233.5 845.95Z" fill="#8cff3a"/><path d="M256.16 833.89L266.96 852.59L245.36 852.59Z" fill="#8cff3a"/><path d="M268.02 840.22L278.82 858.92L257.22 858.92Z" fill="#8cff3a"/><path d="M279.88 846.24L290.68 864.94L269.08 864.94Z" fill="#8cff3a"/><path d="M291.74 851.97L302.54 870.67L280.94 870.67Z" fill="#8cff3a"/><path d="M303.6 857.43L314.4 876.13L292.8 876.13Z" fill="#8cff3a"/><path d="M315.46 862.62L326.26 881.32L304.66 881.32Z" fill="#8cff3a"/><path d="M327.32 867.56L338.12 886.26L316.52 886.26Z" fill="#8cff3a"/><path d="M339.18 872.27L349.98 890.97L328.38 890.97Z" fill="#8cff3a"/><path d="M351.04 876.74L361.84 895.44L340.24 895.44Z" fill="#8cff3a"/><path d="M362.9 881.01L373.7 899.71L352.1 899.71Z" fill="#8cff3a"/><path d="M374.76 885.08L385.56 903.78L363.96 903.78Z" fill="#8cff3a"/><path d="M386.62 888.96L397.42 907.66L375.82 907.66Z" fill="#8cff3a"/><path d="M398.48 892.66L409.28 911.36L387.68 911.36Z" fill="#8cff3a"/><path d="M410.34 896.21L421.14 914.91L399.54 914.91Z" fill="#8cff3a"/><path d="M422.2 899.61L433 918.31L411.4 918.31Z" fill="#8cff3a"/><path d="M434.06 902.87L444.86 921.57L423.26 921.57Z" fill="#8cff3a"/><path d="M445.92 906.02L456.72 924.72L435.12 924.72Z" fill="#8cff3a"/><path d="M457.78 909.05L468.58 927.75L446.98 927.75Z" fill="#8cff3a"/><path d="M469.64 911.99L480.44 930.69L458.84 930.69Z" fill="#8cff3a"/><path d="M481.5 914.84L492.3 933.54L470.7 933.54Z" fill="#8cff3a"/><path d="M493.36 917.62L504.16 936.32L482.56 936.32Z" fill="#8cff3a"/><path d="M505.22 920.32L516.02 939.02L494.42 939.02Z" fill="#8cff3a"/><path d="M517.08 922.94L527.88 941.64L506.28 941.64Z" fill="#8cff3a"/><path d="M528.94 925.49L539.74 944.19L518.14 944.19Z" fill="#8cff3a"/><path d="M540.8 927.97L551.6 946.67L530 946.67Z" fill="#8cff3a"/><path d="M552.66 930.39L563.46 949.09L541.86 949.09Z" fill="#8cff3a"/><path d="M564.52 932.74L575.32 951.44L553.72 951.44Z" fill="#8cff3a"/><path d="M576.38 935.02L587.18 953.72L565.58 953.72Z" fill="#8cff3a"/><path d="M588.24 937.25L599.04 955.95L577.44 955.95Z" fill="#8cff3a"/><path d="M600.1 939.43L610.9 958.13L589.3 958.13Z" fill="#8cff3a"/><path d="M611.96 941.55L622.76 960.25L601.16 960.25Z" fill="#8cff3a"/><path d="M623.82 943.62L634.62 962.32L613.02 962.32Z" fill="#8cff3a"/><path d="M635.68 945.64L646.48 964.34L624.88 964.34Z" fill="#8cff3a"/><path d="M647.54 947.61L658.34 966.31L636.74 966.31Z" fill="#8cff3a"/><path d="M659.4 949.54L670.2 968.24L648.6 968.24Z" fill="#8cff3a"/><path d="M671.26 951.43L682.06 970.13L660.46 970.13Z" fill="#8cff3a"/><path d="M683.12 953.29L693.92 971.99L672.32 971.99Z" fill="#8cff3a"/><path d="M694.98 955.1L705.78 973.8L684.18 973.8Z" fill="#8cff3a"/><path d="M706.84 956.89L717.64 975.59L696.04 975.59Z" fill="#8cff3a"/><path d="M718.7 958.64L729.5 977.34L707.9 977.34Z" fill="#8cff3a"/><path d="M730.56 960.37L741.36 979.07L719.76 979.07Z" fill="#8cff3a"/><path d="M742.42 962.07L753.22 980.77L731.62 980.77Z" fill="#8cff3a"/><path d="M754.28 963.75L765.08 982.45L743.48 982.45Z" fill="#8cff3a"/><path d="M766.14 965.41L776.94 984.11L755.34 984.11Z" fill="#8cff3a"/><path d="M778 967.06L788.8 985.76L767.2 985.76Z" fill="#8cff3a"/>
</g>
<g clip-path="url(#cC)">
<polyline points="196.86,857.19 208.72,862.97 220.58,868.52 232.44,873.84 244.3,878.94 256.16,883.83 268.02,888.51 279.88,893 291.74,897.29 303.6,901.4 315.46,905.33 327.32,909.09 339.18,912.68 351.04,916.12 362.9,919.41 374.76,922.56 386.62,925.56 398.48,928.44 410.34,931.2 422.2,933.84 434.06,936.37 445.92,938.8 457.78,941.14 469.64,943.39 481.5,945.55 493.36,947.64 505.22,949.66 517.08,951.61 528.94,953.49 540.8,955.31 552.66,957.08 564.52,958.79 576.38,960.46 588.24,962.07 600.1,963.65 611.96,965.2 623.82,966.71 635.68,968.19 647.54,969.65 659.4,971.08 671.26,972.5 683.12,973.91 694.98,975.31 706.84,976.71 718.7,978.11 730.56,979.51 742.42,980.92 754.28,982.34 766.14,983.77 778,985.23" fill="none" stroke="#0000ff" stroke-width="2.1" stroke-linejoin="round"/>
<path d="M196.86 869.65L207.66 850.95L186.06 850.95Z" fill="#0000ff"/><path d="M208.72 875.43L219.52 856.73L197.92 856.73Z" fill="#0000ff"/><path d="M220.58 880.98L231.38 862.28L209.78 862.28Z" fill="#0000ff"/><path d="M232.44 886.3L243.24 867.6L221.64 867.6Z" fill="#0000ff"/><path d="M244.3 891.41L255.1 872.71L233.5 872.71Z" fill="#0000ff"/><path d="M256.16 896.29L266.96 877.59L245.36 877.59Z" fill="#0000ff"/><path d="M268.02 900.98L278.82 882.28L257.22 882.28Z" fill="#0000ff"/><path d="M279.88 905.46L290.68 886.76L269.08 886.76Z" fill="#0000ff"/><path d="M291.74 909.76L302.54 891.06L280.94 891.06Z" fill="#0000ff"/><path d="M303.6 913.87L314.4 895.17L292.8 895.17Z" fill="#0000ff"/><path d="M315.46 917.8L326.26 899.1L304.66 899.1Z" fill="#0000ff"/><path d="M327.32 921.56L338.12 902.86L316.52 902.86Z" fill="#0000ff"/><path d="M339.18 925.15L349.98 906.45L328.38 906.45Z" fill="#0000ff"/><path d="M351.04 928.59L361.84 909.89L340.24 909.89Z" fill="#0000ff"/><path d="M362.9 931.88L373.7 913.18L352.1 913.18Z" fill="#0000ff"/><path d="M374.76 935.02L385.56 916.32L363.96 916.32Z" fill="#0000ff"/><path d="M386.62 938.03L397.42 919.33L375.82 919.33Z" fill="#0000ff"/><path d="M398.48 940.91L409.28 922.21L387.68 922.21Z" fill="#0000ff"/><path d="M410.34 943.67L421.14 924.97L399.54 924.97Z" fill="#0000ff"/><path d="M422.2 946.31L433 927.61L411.4 927.61Z" fill="#0000ff"/><path d="M434.06 948.84L444.86 930.14L423.26 930.14Z" fill="#0000ff"/><path d="M445.92 951.27L456.72 932.57L435.12 932.57Z" fill="#0000ff"/><path d="M457.78 953.61L468.58 934.91L446.98 934.91Z" fill="#0000ff"/><path d="M469.64 955.85L480.44 937.15L458.84 937.15Z" fill="#0000ff"/><path d="M481.5 958.02L492.3 939.32L470.7 939.32Z" fill="#0000ff"/><path d="M493.36 960.11L504.16 941.41L482.56 941.41Z" fill="#0000ff"/><path d="M505.22 962.13L516.02 943.43L494.42 943.43Z" fill="#0000ff"/><path d="M517.08 964.07L527.88 945.37L506.28 945.37Z" fill="#0000ff"/><path d="M528.94 965.96L539.74 947.26L518.14 947.26Z" fill="#0000ff"/><path d="M540.8 967.78L551.6 949.08L530 949.08Z" fill="#0000ff"/><path d="M552.66 969.54L563.46 950.84L541.86 950.84Z" fill="#0000ff"/><path d="M564.52 971.26L575.32 952.56L553.72 952.56Z" fill="#0000ff"/><path d="M576.38 972.92L587.18 954.22L565.58 954.22Z" fill="#0000ff"/><path d="M588.24 974.54L599.04 955.84L577.44 955.84Z" fill="#0000ff"/><path d="M600.1 976.12L610.9 957.42L589.3 957.42Z" fill="#0000ff"/><path d="M611.96 977.66L622.76 958.96L601.16 958.96Z" fill="#0000ff"/><path d="M623.82 979.17L634.62 960.47L613.02 960.47Z" fill="#0000ff"/><path d="M635.68 980.66L646.48 961.96L624.88 961.96Z" fill="#0000ff"/><path d="M647.54 982.11L658.34 963.41L636.74 963.41Z" fill="#0000ff"/><path d="M659.4 983.55L670.2 964.85L648.6 964.85Z" fill="#0000ff"/><path d="M671.26 984.97L682.06 966.27L660.46 966.27Z" fill="#0000ff"/><path d="M683.12 986.38L693.92 967.68L672.32 967.68Z" fill="#0000ff"/><path d="M694.98 987.78L705.78 969.08L684.18 969.08Z" fill="#0000ff"/><path d="M706.84 989.18L717.64 970.48L696.04 970.48Z" fill="#0000ff"/><path d="M718.7 990.57L729.5 971.87L707.9 971.87Z" fill="#0000ff"/><path d="M730.56 991.97L741.36 973.27L719.76 973.27Z" fill="#0000ff"/><path d="M742.42 993.38L753.22 974.68L731.62 974.68Z" fill="#0000ff"/><path d="M754.28 994.8L765.08 976.1L743.48 976.1Z" fill="#0000ff"/><path d="M766.14 996.24L776.94 977.54L755.34 977.54Z" fill="#0000ff"/><path d="M778 997.7L788.8 979L767.2 979Z" fill="#0000ff"/>
</g>
<g clip-path="url(#cD)">
<polyline points="1026.41,691.46 1038.52,720.95 1050.63,748.92 1062.74,775.45 1074.85,800.61 1086.96,824.49 1099.07,847.15 1111.18,868.68 1123.29,889.16 1135.4,908.65 1147.51,927.24 1159.62,945.01 1171.73,962.02 1183.84,978.35 1195.95,994.06 1208.06,1009.22 1220.17,1023.88 1232.28,1038.12 1244.39,1051.99 1256.5,1065.57 1268.61,1078.91 1280.72,1092.08 1292.83,1105.14 1304.94,1118.16 1317.05,1131.21 1329.16,1144.34 1341.27,1157.62 1353.38,1171.12 1365.49,1184.9 1377.6,1199.02 1389.71,1213.55 1401.82,1228.55 1413.93,1244.09 1426.04,1260.23 1438.15,1277.03 1450.26,1294.56 1462.37,1312.89 1474.48,1332.08 1486.59,1352.18 1498.7,1373.28 1510.81,1395.42 1522.92,1418.68 1535.03,1443.12 1547.14,1468.8 1559.25,1495.79 1571.36,1524.15 1583.47,1553.95 1595.58,1585.24 1607.69,1618.11 1619.8,1652.6" fill="none" stroke="#000000" stroke-width="2.1" stroke-linejoin="round"/>
<rect x="1018.41" y="683.46" width="16" height="16" fill="#000000"/><rect x="1030.52" y="712.95" width="16" height="16" fill="#000000"/><rect x="1042.63" y="740.92" width="16" height="16" fill="#000000"/><rect x="1054.74" y="767.45" width="16" height="16" fill="#000000"/><rect x="1066.85" y="792.61" width="16" height="16" fill="#000000"/><rect x="1078.96" y="816.49" width="16" height="16" fill="#000000"/><rect x="1091.07" y="839.15" width="16" height="16" fill="#000000"/><rect x="1103.18" y="860.68" width="16" height="16" fill="#000000"/><rect x="1115.29" y="881.16" width="16" height="16" fill="#000000"/><rect x="1127.4" y="900.65" width="16" height="16" fill="#000000"/><rect x="1139.51" y="919.24" width="16" height="16" fill="#000000"/><rect x="1151.62" y="937.01" width="16" height="16" fill="#000000"/><rect x="1163.73" y="954.02" width="16" height="16" fill="#000000"/><rect x="1175.84" y="970.35" width="16" height="16" fill="#000000"/><rect x="1187.95" y="986.06" width="16" height="16" fill="#000000"/><rect x="1200.06" y="1001.22" width="16" height="16" fill="#000000"/><rect x="1212.17" y="1015.88" width="16" height="16" fill="#000000"/><rect x="1224.28" y="1030.12" width="16" height="16" fill="#000000"/><rect x="1236.39" y="1043.99" width="16" height="16" fill="#000000"/><rect x="1248.5" y="1057.57" width="16" height="16" fill="#000000"/><rect x="1260.61" y="1070.91" width="16" height="16" fill="#000000"/><rect x="1272.72" y="1084.08" width="16" height="16" fill="#000000"/><rect x="1284.83" y="1097.14" width="16" height="16" fill="#000000"/><rect x="1296.94" y="1110.16" width="16" height="16" fill="#000000"/><rect x="1309.05" y="1123.21" width="16" height="16" fill="#000000"/><rect x="1321.16" y="1136.34" width="16" height="16" fill="#000000"/><rect x="1333.27" y="1149.62" width="16" height="16" fill="#000000"/><rect x="1345.38" y="1163.12" width="16" height="16" fill="#000000"/><rect x="1357.49" y="1176.9" width="16" height="16" fill="#000000"/><rect x="1369.6" y="1191.02" width="16" height="16" fill="#000000"/><rect x="1381.71" y="1205.55" width="16" height="16" fill="#000000"/><rect x="1393.82" y="1220.55" width="16" height="16" fill="#000000"/><rect x="1405.93" y="1236.09" width="16" height="16" fill="#000000"/><rect x="1418.04" y="1252.23" width="16" height="16" fill="#000000"/><rect x="1430.15" y="1269.03" width="16" height="16" fill="#000000"/><rect x="1442.26" y="1286.56" width="16" height="16" fill="#000000"/><rect x="1454.37" y="1304.89" width="16" height="16" fill="#000000"/><rect x="1466.48" y="1324.08" width="16" height="16" fill="#000000"/><rect x="1478.59" y="1344.18" width="16" height="16" fill="#000000"/><rect x="1490.7" y="1365.28" width="16" height="16" fill="#000000"/><rect x="1502.81" y="1387.42" width="16" height="16" fill="#000000"/><rect x="1514.92" y="1410.68" width="16" height="16" fill="#000000"/><rect x="1527.03" y="1435.12" width="16" height="16" fill="#000000"/><rect x="1539.14" y="1460.8" width="16" height="16" fill="#000000"/><rect x="1551.25" y="1487.79" width="16" height="16" fill="#000000"/><rect x="1563.36" y="1516.15" width="16" height="16" fill="#000000"/><rect x="1575.47" y="1545.95" width="16" height="16" fill="#000000"/><rect x="1587.58" y="1577.24" width="16" height="16" fill="#000000"/><rect x="1599.69" y="1610.11" width="16" height="16" fill="#000000"/><rect x="1611.8" y="1644.6" width="16" height="16" fill="#000000"/>
</g>
<g clip-path="url(#cD)">
<polyline points="1026.41,762.09 1038.52,776.27 1050.63,789.86 1062.74,802.89 1074.85,815.38 1086.96,827.34 1099.07,838.81 1111.18,849.78 1123.29,860.3 1135.4,870.37 1147.51,880.01 1159.62,889.24 1171.73,898.09 1183.84,906.57 1195.95,914.69 1208.06,922.49 1220.17,929.97 1232.28,937.16 1244.39,944.07 1256.5,950.74 1268.61,957.16 1280.72,963.37 1292.83,969.38 1304.94,975.21 1317.05,980.89 1329.16,986.42 1341.27,991.83 1353.38,997.12 1365.49,1002.29 1377.6,1007.34 1389.71,1012.28 1401.82,1017.09 1413.93,1021.79 1426.04,1026.37 1438.15,1030.83 1450.26,1035.18 1462.37,1039.41 1474.48,1043.53 1486.59,1047.54 1498.7,1051.43 1510.81,1055.21 1522.92,1058.87 1535.03,1062.43 1547.14,1065.88 1559.25,1069.21 1571.36,1072.44 1583.47,1075.55 1595.58,1078.56 1607.69,1081.46 1619.8,1084.25" fill="none" stroke="#d90000" stroke-width="2.1" stroke-linejoin="round"/>
<circle cx="1026.41" cy="762.09" r="9" fill="#d90000"/><circle cx="1038.52" cy="776.27" r="9" fill="#d90000"/><circle cx="1050.63" cy="789.86" r="9" fill="#d90000"/><circle cx="1062.74" cy="802.89" r="9" fill="#d90000"/><circle cx="1074.85" cy="815.38" r="9" fill="#d90000"/><circle cx="1086.96" cy="827.34" r="9" fill="#d90000"/><circle cx="1099.07" cy="838.81" r="9" fill="#d90000"/><circle cx="1111.18" cy="849.78" r="9" fill="#d90000"/><circle cx="1123.29" cy="860.3" r="9" fill="#d90000"/><circle cx="1135.4" cy="870.37" r="9" fill="#d90000"/><circle cx="1147.51" cy="880.01" r="9" fill="#d90000"/><circle cx="1159.62" cy="889.24" r="9" fill="#d90000"/><circle cx="1171.73" cy="898.09" r="9" fill="#d90000"/><circle cx="1183.84" cy="906.57" r="9" fill="#d90000"/><circle cx="1195.95" cy="914.69" r="9" fill="#d90000"/><circle cx="1208.06" cy="922.49" r="9" fill="#d90000"/><circle cx="1220.17" cy="929.97" r="9" fill="#d90000"/><circle cx="1232.28" cy="937.16" r="9" fill="#d90000"/><circle cx="1244.39" cy="944.07" r="9" fill="#d90000"/><circle cx="1256.5" cy="950.74" r="9" fill="#d90000"/><circle cx="1268.61" cy="957.16" r="9" fill="#d90000"/><circle cx="1280.72" cy="963.37" r="9" fill="#d90000"/><circle cx="1292.83" cy="969.38" r="9" fill="#d90000"/><circle cx="1304.94" cy="975.21" r="9" fill="#d90000"/><circle cx="1317.05" cy="980.89" r="9" fill="#d90000"/><circle cx="1329.16" cy="986.42" r="9" fill="#d90000"/><circle cx="1341.27" cy="991.83" r="9" fill="#d90000"/><circle cx="1353.38" cy="997.12" r="9" fill="#d90000"/><circle cx="1365.49" cy="1002.29" r="9" fill="#d90000"/><circle cx="1377.6" cy="1007.34" r="9" fill="#d90000"/><circle cx="1389.71" cy="1012.28" r="9" fill="#d90000"/><circle cx="1401.82" cy="1017.09" r="9" fill="#d90000"/><circle cx="1413.93" cy="1021.79" r="9" fill="#d90000"/><circle cx="1426.04" cy="1026.37" r="9" fill="#d90000"/><circle cx="1438.15" cy="1030.83" r="9" fill="#d90000"/><circle cx="1450.26" cy="1035.18" r="9" fill="#d90000"/><circle cx="1462.37" cy="1039.41" r="9" fill="#d90000"/><circle cx="1474.48" cy="1043.53" r="9" fill="#d90000"/><circle cx="1486.59" cy="1047.54" r="9" fill="#d90000"/><circle cx="1498.7" cy="1051.43" r="9" fill="#d90000"/><circle cx="1510.81" cy="1055.21" r="9" fill="#d90000"/><circle cx="1522.92" cy="1058.87" r="9" fill="#d90000"/><circle cx="1535.03" cy="1062.43" r="9" fill="#d90000"/><circle cx="1547.14" cy="1065.88" r="9" fill="#d90000"/><circle cx="1559.25" cy="1069.21" r="9" fill="#d90000"/><circle cx="1571.36" cy="1072.44" r="9" fill="#d90000"/><circle cx="1583.47" cy="1075.55" r="9" fill="#d90000"/><circle cx="1595.58" cy="1078.56" r="9" fill="#d90000"/><circle cx="1607.69" cy="1081.46" r="9" fill="#d90000"/><circle cx="1619.8" cy="1084.25" r="9" fill="#d90000"/>
</g>
<g clip-path="url(#cD)">
<polyline points="1026.41,807.95 1038.52,817.43 1050.63,826.51 1062.74,835.21 1074.85,843.55 1086.96,851.53 1099.07,859.18 1111.18,866.51 1123.29,873.52 1135.4,880.24 1147.51,886.68 1159.62,892.85 1171.73,898.77 1183.84,904.45 1195.95,909.91 1208.06,915.15 1220.17,920.2 1232.28,925.07 1244.39,929.76 1256.5,934.31 1268.61,938.71 1280.72,942.99 1292.83,947.15 1304.94,951.21 1317.05,955.16 1329.16,959 1341.27,962.75 1353.38,966.39 1365.49,969.94 1377.6,973.39 1389.71,976.75 1401.82,980.02 1413.93,983.21 1426.04,986.31 1438.15,989.34 1450.26,992.28 1462.37,995.15 1474.48,997.94 1486.59,1000.66 1498.7,1003.32 1510.81,1005.91 1522.92,1008.43 1535.03,1010.9 1547.14,1013.3 1559.25,1015.66 1571.36,1017.95 1583.47,1020.2 1595.58,1022.4 1607.69,1024.56 1619.8,1026.67" fill="none" stroke="#8cff3a" stroke-width="2.1" stroke-linejoin="round"/>
<path d="M1026.41 795.48L1037.21 814.18L1015.61 814.18Z" fill="#8cff3a"/><path d="M1038.52 804.96L1049.32 823.66L1027.72 823.66Z" fill="#8cff3a"/><path d="M1050.63 814.04L1061.43 832.74L1039.83 832.74Z" fill="#8cff3a"/><path d="M1062.74 822.75L1073.54 841.45L1051.94 841.45Z" fill="#8cff3a"/><path d="M1074.85 831.08L1085.65 849.78L1064.05 849.78Z" fill="#8cff3a"/><path d="M1086.96 839.07L1097.76 857.77L1076.16 857.77Z" fill="#8cff3a"/><path d="M1099.07 846.71L1109.87 865.41L1088.27 865.41Z" fill="#8cff3a"/><path d="M1111.18 854.04L1121.98 872.74L1100.38 872.74Z" fill="#8cff3a"/><path d="M1123.29 861.05L1134.09 879.75L1112.49 879.75Z" fill="#8cff3a"/><path d="M1135.4 867.77L1146.2 886.47L1124.6 886.47Z" fill="#8cff3a"/><path d="M1147.51 874.21L1158.31 892.91L1136.71 892.91Z" fill="#8cff3a"/><path d="M1159.62 880.39L1170.42 899.09L1148.82 899.09Z" fill="#8cff3a"/><path d="M1171.73 886.3L1182.53 905L1160.93 905Z" fill="#8cff3a"/><path d="M1183.84 891.98L1194.64 910.68L1173.04 910.68Z" fill="#8cff3a"/><path d="M1195.95 897.44L1206.75 916.14L1185.15 916.14Z" fill="#8cff3a"/><path d="M1208.06 902.69L1218.86 921.39L1197.26 921.39Z" fill="#8cff3a"/><path d="M1220.17 907.73L1230.97 926.43L1209.37 926.43Z" fill="#8cff3a"/><path d="M1232.28 912.6L1243.08 931.3L1221.48 931.3Z" fill="#8cff3a"/><path d="M1244.39 917.3L1255.19 936L1233.59 936Z" fill="#8cff3a"/><path d="M1256.5 921.84L1267.3 940.54L1245.7 940.54Z" fill="#8cff3a"/><path d="M1268.61 926.25L1279.41 944.95L1257.81 944.95Z" fill="#8cff3a"/><path d="M1280.72 930.52L1291.52 949.22L1269.92 949.22Z" fill="#8cff3a"/><path d="M1292.83 934.69L1303.63 953.39L1282.03 953.39Z" fill="#8cff3a"/><path d="M1304.94 938.74L1315.74 957.44L1294.14 957.44Z" fill="#8cff3a"/><path d="M1317.05 942.69L1327.85 961.39L1306.25 961.39Z" fill="#8cff3a"/><path d="M1329.16 946.54L1339.96 965.24L1318.36 965.24Z" fill="#8cff3a"/><path d="M1341.27 950.28L1352.07 968.98L1330.47 968.98Z" fill="#8cff3a"/><path d="M1353.38 953.92L1364.18 972.62L1342.58 972.62Z" fill="#8cff3a"/><path d="M1365.49 957.47L1376.29 976.17L1354.69 976.17Z" fill="#8cff3a"/><path d="M1377.6 960.92L1388.4 979.62L1366.8 979.62Z" fill="#8cff3a"/><path d="M1389.71 964.28L1400.51 982.98L1378.91 982.98Z" fill="#8cff3a"/><path d="M1401.82 967.56L1412.62 986.26L1391.02 986.26Z" fill="#8cff3a"/><path d="M1413.93 970.74L1424.73 989.44L1403.13 989.44Z" fill="#8cff3a"/><path d="M1426.04 973.85L1436.84 992.55L1415.24 992.55Z" fill="#8cff3a"/><path d="M1438.15 976.87L1448.95 995.57L1427.35 995.57Z" fill="#8cff3a"/><path d="M1450.26 979.81L1461.06 998.51L1439.46 998.51Z" fill="#8cff3a"/><path d="M1462.37 982.68L1473.17 1001.38L1451.57 1001.38Z" fill="#8cff3a"/><path d="M1474.48 985.47L1485.28 1004.17L1463.68 1004.17Z" fill="#8cff3a"/><path d="M1486.59 988.2L1497.39 1006.9L1475.79 1006.9Z" fill="#8cff3a"/><path d="M1498.7 990.85L1509.5 1009.55L1487.9 1009.55Z" fill="#8cff3a"/><path d="M1510.81 993.44L1521.61 1012.14L1500.01 1012.14Z" fill="#8cff3a"/><path d="M1522.92 995.97L1533.72 1014.67L1512.12 1014.67Z" fill="#8cff3a"/><path d="M1535.03 998.43L1545.83 1017.13L1524.23 1017.13Z" fill="#8cff3a"/><path d="M1547.14 1000.84L1557.94 1019.54L1536.34 1019.54Z" fill="#8cff3a"/><path d="M1559.25 1003.19L1570.05 1021.89L1548.45 1021.89Z" fill="#8cff3a"/><path d="M1571.36 1005.49L1582.16 1024.19L1560.56 1024.19Z" fill="#8cff3a"/><path d="M1583.47 1007.73L1594.27 1026.43L1572.67 1026.43Z" fill="#8cff3a"/><path d="M1595.58 1009.93L1606.38 1028.63L1584.78 1028.63Z" fill="#8cff3a"/><path d="M1607.69 1012.09L1618.49 1030.79L1596.89 1030.79Z" fill="#8cff3a"/><path d="M1619.8 1014.2L1630.6 1032.9L1609 1032.9Z" fill="#8cff3a"/>
</g>
<g clip-path="url(#cD)">
<polyline points="1026.41,840.7 1038.52,847.68 1050.63,854.39 1062.74,860.85 1074.85,867.04 1086.96,873 1099.07,878.72 1111.18,884.21 1123.29,889.49 1135.4,894.56 1147.51,899.42 1159.62,904.09 1171.73,908.57 1183.84,912.88 1195.95,917.02 1208.06,920.99 1220.17,924.82 1232.28,928.5 1244.39,932.05 1256.5,935.47 1268.61,938.77 1280.72,941.96 1292.83,945.04 1304.94,948.04 1317.05,950.94 1329.16,953.77 1341.27,956.52 1353.38,959.21 1365.49,961.82 1377.6,964.36 1389.71,966.84 1401.82,969.26 1413.93,971.61 1426.04,973.91 1438.15,976.16 1450.26,978.35 1462.37,980.49 1474.48,982.59 1486.59,984.64 1498.7,986.65 1510.81,988.62 1522.92,990.55 1535.03,992.45 1547.14,994.31 1559.25,996.15 1571.36,997.96 1583.47,999.74 1595.58,1001.51 1607.69,1003.25 1619.8,1004.97" fill="none" stroke="#0000ff" stroke-width="2.1" stroke-linejoin="round"/>
<path d="M1026.41 853.17L1037.21 834.47L1015.61 834.47Z" fill="#0000ff"/><path d="M1038.52 860.15L1049.32 841.45L1027.72 841.45Z" fill="#0000ff"/><path d="M1050.63 866.86L1061.43 848.16L1039.83 848.16Z" fill="#0000ff"/><path d="M1062.74 873.31L1073.54 854.61L1051.94 854.61Z" fill="#0000ff"/><path d="M1074.85 879.51L1085.65 860.81L1064.05 860.81Z" fill="#0000ff"/><path d="M1086.96 885.47L1097.76 866.77L1076.16 866.77Z" fill="#0000ff"/><path d="M1099.07 891.19L1109.87 872.49L1088.27 872.49Z" fill="#0000ff"/><path d="M1111.18 896.68L1121.98 877.98L1100.38 877.98Z" fill="#0000ff"/><path d="M1123.29 901.96L1134.09 883.26L1112.49 883.26Z" fill="#0000ff"/><path d="M1135.4 907.02L1146.2 888.32L1124.6 888.32Z" fill="#0000ff"/><path d="M1147.51 911.88L1158.31 893.18L1136.71 893.18Z" fill="#0000ff"/><path d="M1159.62 916.55L1170.42 897.85L1148.82 897.85Z" fill="#0000ff"/><path d="M1171.73 921.04L1182.53 902.34L1160.93 902.34Z" fill="#0000ff"/><path d="M1183.84 925.35L1194.64 906.65L1173.04 906.65Z" fill="#0000ff"/><path d="M1195.95 929.48L1206.75 910.78L1185.15 910.78Z" fill="#0000ff"/><path d="M1208.06 933.46L1218.86 914.76L1197.26 914.76Z" fill="#0000ff"/><path d="M1220.17 937.29L1230.97 918.59L1209.37 918.59Z" fill="#0000ff"/><path d="M1232.28 940.97L1243.08 922.27L1221.48 922.27Z" fill="#0000ff"/><path d="M1244.39 944.51L1255.19 925.81L1233.59 925.81Z" fill="#0000ff"/><path d="M1256.5 947.93L1267.3 929.23L1245.7 929.23Z" fill="#0000ff"/><path d="M1268.61 951.23L1279.41 932.53L1257.81 932.53Z" fill="#0000ff"/><path d="M1280.72 954.42L1291.52 935.72L1269.92 935.72Z" fill="#0000ff"/><path d="M1292.83 957.51L1303.63 938.81L1282.03 938.81Z" fill="#0000ff"/><path d="M1304.94 960.5L1315.74 941.8L1294.14 941.8Z" fill="#0000ff"/><path d="M1317.05 963.41L1327.85 944.71L1306.25 944.71Z" fill="#0000ff"/><path d="M1329.16 966.24L1339.96 947.54L1318.36 947.54Z" fill="#0000ff"/><path d="M1341.27 968.99L1352.07 950.29L1330.47 950.29Z" fill="#0000ff"/><path d="M1353.38 971.67L1364.18 952.97L1342.58 952.97Z" fill="#0000ff"/><path d="M1365.49 974.28L1376.29 955.58L1354.69 955.58Z" fill="#0000ff"/><path d="M1377.6 976.83L1388.4 958.13L1366.8 958.13Z" fill="#0000ff"/><path d="M1389.71 979.31L1400.51 960.61L1378.91 960.61Z" fill="#0000ff"/><path d="M1401.82 981.72L1412.62 963.02L1391.02 963.02Z" fill="#0000ff"/><path d="M1413.93 984.08L1424.73 965.38L1403.13 965.38Z" fill="#0000ff"/><path d="M1426.04 986.38L1436.84 967.68L1415.24 967.68Z" fill="#0000ff"/><path d="M1438.15 988.63L1448.95 969.93L1427.35 969.93Z" fill="#0000ff"/><path d="M1450.26 990.82L1461.06 972.12L1439.46 972.12Z" fill="#0000ff"/><path d="M1462.37 992.96L1473.17 974.26L1451.57 974.26Z" fill="#0000ff"/><path d="M1474.48 995.06L1485.28 976.36L1463.68 976.36Z" fill="#0000ff"/><path d="M1486.59 997.11L1497.39 978.41L1475.79 978.41Z" fill="#0000ff"/><path d="M1498.7 999.12L1509.5 980.42L1487.9 980.42Z" fill="#0000ff"/><path d="M1510.81 1001.09L1521.61 982.39L1500.01 982.39Z" fill="#0000ff"/><path d="M1522.92 1003.02L1533.72 984.32L1512.12 984.32Z" fill="#0000ff"/><path d="M1535.03 1004.92L1545.83 986.22L1524.23 986.22Z" fill="#0000ff"/><path d="M1547.14 1006.78L1557.94 988.08L1536.34 988.08Z" fill="#0000ff"/><path d="M1559.25 1008.62L1570.05 989.92L1548.45 989.92Z" fill="#0000ff"/><path d="M1571.36 1010.43L1582.16 991.73L1560.56 991.73Z" fill="#0000ff"/><path d="M1583.47 1012.21L1594.27 993.51L1572.67 993.51Z" fill="#0000ff"/><path d="M1595.58 1013.97L1606.38 995.27L1584.78 995.27Z" fill="#0000ff"/><path d="M1607.69 1015.72L1618.49 997.02L1596.89 997.02Z" fill="#0000ff"/><path d="M1619.8 1017.44L1630.6 998.74L1609 998.74Z" fill="#0000ff"/>
</g>
<g fill="#000">
<rect x="186" y="18.1" width="590" height="458.2" fill="none" stroke="#000" stroke-width="1.8"/>
<line x1="185.5" y1="476.3" x2="185.5" y2="485.3" stroke="#000" stroke-width="1.8"/>
<line x1="193.94" y1="476.3" x2="193.94" y2="481.3" stroke="#000" stroke-width="1.8"/>
<line x1="202.37" y1="476.3" x2="202.37" y2="481.3" stroke="#000" stroke-width="1.8"/>
<line x1="210.81" y1="476.3" x2="210.81" y2="481.3" stroke="#000" stroke-width="1.8"/>
<line x1="219.24" y1="476.3" x2="219.24" y2="481.3" stroke="#000" stroke-width="1.8"/>
<line x1="227.68" y1="476.3" x2="227.68" y2="481.3" stroke="#000" stroke-width="1.8"/>
<line x1="236.11" y1="476.3" x2="236.11" y2="481.3" stroke="#000" stroke-width="1.8"/>
<line x1="244.55" y1="476.3" x2="244.55" y2="481.3" stroke="#000" stroke-width="1.8"/>
<line x1="252.99" y1="476.3" x2="252.99" y2="481.3" stroke="#000" stroke-width="1.8"/>
<line x1="261.42" y1="476.3" x2="261.42" y2="481.3" stroke="#000" stroke-width="1.8"/>
<line x1="269.86" y1="476.3" x2="269.86" y2="485.3" stroke="#000" stroke-width="1.8"/>
<line x1="278.29" y1="476.3" x2="278.29" y2="481.3" stroke="#000" stroke-width="1.8"/>
<line x1="286.73" y1="476.3" x2="286.73" y2="481.3" stroke="#000" stroke-width="1.8"/>
<line x1="295.16" y1="476.3" x2="295.16" y2="481.3" stroke="#000" stroke-width="1.8"/>
<line x1="303.6" y1="476.3" x2="303.6" y2="481.3" stroke="#000" stroke-width="1.8"/>
<line x1="312.04" y1="476.3" x2="312.04" y2="481.3" stroke="#000" stroke-width="1.8"/>
<line x1="320.47" y1="476.3" x2="320.47" y2="481.3" stroke="#000" stroke-width="1.8"/>
<line x1="328.91" y1="476.3" x2="328.91" y2="481.3" stroke="#000" stroke-width="1.8"/>
<line x1="337.34" y1="476.3" x2="337.34" y2="481.3" stroke="#000" stroke-width="1.8"/>
<line x1="345.78" y1="476.3" x2="345.78" y2="481.3" stroke="#000" stroke-width="1.8"/>
<line x1="354.21" y1="476.3" x2="354.21" y2="485.3" stroke="#000" stroke-width="1.8"/>
<line x1="362.65" y1="476.3" x2="362.65" y2="481.3" stroke="#000" stroke-width="1.8"/>
<line x1="371.09" y1="476.3" x2="371.09" y2="481.3" stroke="#000" stroke-width="1.8"/>
<line x1="379.52" y1="476.3" x2="379.52" y2="481.3" stroke="#000" stroke-width="1.8"/>
<line x1="387.96" y1="476.3" x2="387.96" y2="481.3" stroke="#000" stroke-width="1.8"/>
<line x1="396.39" y1="476.3" x2="396.39" y2="481.3" stroke="#000" stroke-width="1.8"/>
<line x1="404.83" y1="476.3" x2="404.83" y2="481.3" stroke="#000" stroke-width="1.8"/>
<line x1="413.26" y1="476.3" x2="413.26" y2="481.3" stroke="#000" stroke-width="1.8"/>
<line x1="421.7" y1="476.3" x2="421.7" y2="481.3" stroke="#000" stroke-width="1.8"/>
<line x1="430.14" y1="476.3" x2="430.14" y2="481.3" stroke="#000" stroke-width="1.8"/>
<line x1="438.57" y1="476.3" x2="438.57" y2="485.3" stroke="#000" stroke-width="1.8"/>
<line x1="447.01" y1="476.3" x2="447.01" y2="481.3" stroke="#000" stroke-width="1.8"/>
<line x1="455.44" y1="476.3" x2="455.44" y2="481.3" stroke="#000" stroke-width="1.8"/>
<line x1="463.88" y1="476.3" x2="463.88" y2="481.3" stroke="#000" stroke-width="1.8"/>
<line x1="472.31" y1="476.3" x2="472.31" y2="481.3" stroke="#000" stroke-width="1.8"/>
<line x1="480.75" y1="476.3" x2="480.75" y2="481.3" stroke="#000" stroke-width="1.8"/>
<line x1="489.19" y1="476.3" x2="489.19" y2="481.3" stroke="#000" stroke-width="1.8"/>
<line x1="497.62" y1="476.3" x2="497.62" y2="481.3" stroke="#000" stroke-width="1.8"/>
<line x1="506.06" y1="476.3" x2="506.06" y2="481.3" stroke="#000" stroke-width="1.8"/>
<line x1="514.49" y1="476.3" x2="514.49" y2="481.3" stroke="#000" stroke-width="1.8"/>
<line x1="522.93" y1="476.3" x2="522.93" y2="485.3" stroke="#000" stroke-width="1.8"/>
<line x1="531.36" y1="476.3" x2="531.36" y2="481.3" stroke="#000" stroke-width="1.8"/>
<line x1="539.8" y1="476.3" x2="539.8" y2="481.3" stroke="#000" stroke-width="1.8"/>
<line x1="548.24" y1="476.3" x2="548.24" y2="481.3" stroke="#000" stroke-width="1.8"/>
<line x1="556.67" y1="476.3" x2="556.67" y2="481.3" stroke="#000" stroke-width="1.8"/>
<line x1="565.11" y1="476.3" x2="565.11" y2="481.3" stroke="#000" stroke-width="1.8"/>
<line x1="573.54" y1="476.3" x2="573.54" y2="481.3" stroke="#000" stroke-width="1.8"/>
<line x1="581.98" y1="476.3" x2="581.98" y2="481.3" stroke="#000" stroke-width="1.8"/>
<line x1="590.41" y1="476.3" x2="590.41" y2="481.3" stroke="#000" stroke-width="1.8"/>
<line x1="598.85" y1="476.3" x2="598.85" y2="481.3" stroke="#000" stroke-width="1.8"/>
<line x1="607.29" y1="476.3" x2="607.29" y2="485.3" stroke="#000" stroke-width="1.8"/>
<line x1="615.72" y1="476.3" x2="615.72" y2="481.3" stroke="#000" stroke-width="1.8"/>
<line x1="624.16" y1="476.3" x2="624.16" y2="481.3" stroke="#000" stroke-width="1.8"/>
<line x1="632.59" y1="476.3" x2="632.59" y2="481.3" stroke="#000" stroke-width="1.8"/>
<line x1="641.03" y1="476.3" x2="641.03" y2="481.3" stroke="#000" stroke-width="1.8"/>
<line x1="649.46" y1="476.3" x2="649.46" y2="481.3" stroke="#000" stroke-width="1.8"/>
<line x1="657.9" y1="476.3" x2="657.9" y2="481.3" stroke="#000" stroke-width="1.8"/>
<line x1="666.34" y1="476.3" x2="666.34" y2="481.3" stroke="#000" stroke-width="1.8"/>
<line x1="674.77" y1="476.3" x2="674.77" y2="481.3" stroke="#000" stroke-width="1.8"/>
<line x1="683.21" y1="476.3" x2="683.21" y2="481.3" stroke="#000" stroke-width="1.8"/>
<line x1="691.64" y1="476.3" x2="691.64" y2="485.3" stroke="#000" stroke-width="1.8"/>
<line x1="700.08" y1="476.3" x2="700.08" y2="481.3" stroke="#000" stroke-width="1.8"/>
<line x1="708.51" y1="476.3" x2="708.51" y2="481.3" stroke="#000" stroke-width="1.8"/>
<line x1="716.95" y1="476.3" x2="716.95" y2="481.3" stroke="#000" stroke-width="1.8"/>
<line x1="725.39" y1="476.3" x2="725.39" y2="481.3" stroke="#000" stroke-width="1.8"/>
<line x1="733.82" y1="476.3" x2="733.82" y2="481.3" stroke="#000" stroke-width="1.8"/>
<line x1="742.26" y1="476.3" x2="742.26" y2="481.3" stroke="#000" stroke-width="1.8"/>
<line x1="750.69" y1="476.3" x2="750.69" y2="481.3" stroke="#000" stroke-width="1.8"/>
<line x1="759.13" y1="476.3" x2="759.13" y2="481.3" stroke="#000" stroke-width="1.8"/>
<line x1="767.56" y1="476.3" x2="767.56" y2="481.3" stroke="#000" stroke-width="1.8"/>
<line x1="776" y1="476.3" x2="776" y2="485.3" stroke="#000" stroke-width="1.8"/>
<line x1="181" y1="476.4" x2="186" y2="476.4" stroke="#000" stroke-width="1.8"/>
<line x1="177" y1="396.7" x2="186" y2="396.7" stroke="#000" stroke-width="1.8"/>
<line x1="767" y1="396.7" x2="776" y2="396.7" stroke="#000" stroke-width="1.8"/>
<line x1="181" y1="317" x2="186" y2="317" stroke="#000" stroke-width="1.8"/>
<line x1="771" y1="317" x2="776" y2="317" stroke="#000" stroke-width="1.8"/>
<line x1="177" y1="237.3" x2="186" y2="237.3" stroke="#000" stroke-width="1.8"/>
<line x1="767" y1="237.3" x2="776" y2="237.3" stroke="#000" stroke-width="1.8"/>
<line x1="181" y1="157.6" x2="186" y2="157.6" stroke="#000" stroke-width="1.8"/>
<line x1="771" y1="157.6" x2="776" y2="157.6" stroke="#000" stroke-width="1.8"/>
<line x1="177" y1="77.9" x2="186" y2="77.9" stroke="#000" stroke-width="1.8"/>
<line x1="767" y1="77.9" x2="776" y2="77.9" stroke="#000" stroke-width="1.8"/>
<text x="172" y="413.2" font-size="51.5" text-anchor="end" transform="translate(0 413.2) scale(1 1.05) translate(0 -413.2)">1.000</text>
<text x="172" y="253.8" font-size="51.5" text-anchor="end" transform="translate(0 253.8) scale(1 1.05) translate(0 -253.8)">1.004</text>
<text x="172" y="94.4" font-size="51.5" text-anchor="end" transform="translate(0 94.4) scale(1 1.05) translate(0 -94.4)">1.008</text>
<text x="145.5" y="544.7" font-size="51.5" text-anchor="start" transform="translate(0 544.7) scale(1 1.05) translate(0 -544.7)">10<tspan font-size="31" dy="-24.8">20</tspan></text>
<text x="229.86" y="544.7" font-size="51.5" text-anchor="start" transform="translate(0 544.7) scale(1 1.05) translate(0 -544.7)">10<tspan font-size="31" dy="-24.8">30</tspan></text>
<text x="314.21" y="544.7" font-size="51.5" text-anchor="start" transform="translate(0 544.7) scale(1 1.05) translate(0 -544.7)">10<tspan font-size="31" dy="-24.8">40</tspan></text>
<text x="398.57" y="544.7" font-size="51.5" text-anchor="start" transform="translate(0 544.7) scale(1 1.05) translate(0 -544.7)">10<tspan font-size="31" dy="-24.8">50</tspan></text>
<text x="482.93" y="544.7" font-size="51.5" text-anchor="start" transform="translate(0 544.7) scale(1 1.05) translate(0 -544.7)">10<tspan font-size="31" dy="-24.8">60</tspan></text>
<text x="567.29" y="544.7" font-size="51.5" text-anchor="start" transform="translate(0 544.7) scale(1 1.05) translate(0 -544.7)">10<tspan font-size="31" dy="-24.8">70</tspan></text>
<text x="651.64" y="544.7" font-size="51.5" text-anchor="start" transform="translate(0 544.7) scale(1 1.05) translate(0 -544.7)">10<tspan font-size="31" dy="-24.8">80</tspan></text>
<text x="736" y="544.7" font-size="51.5" text-anchor="start" transform="translate(0 544.7) scale(1 1.05) translate(0 -544.7)">10<tspan font-size="31" dy="-24.8">90</tspan></text>
<text transform="translate(467.2 591) scale(1.17 1)" font-size="59.4" font-style="italic">r</text>
<text x="45" y="409.6" font-size="65" text-anchor="start" transform="rotate(-90 45 409.6) translate(45 409.6) scale(0.973 1) translate(-45 -409.6)">S(<tspan font-style="italic">r</tspan>, <tspan font-style="italic">x</tspan>)/S(<tspan font-style="italic">r</tspan>, 1)</text>
<text x="94.8" y="42.4" font-size="61.5" text-anchor="start">A</text>
<line x1="191" y1="46.8" x2="309.6" y2="46.8" stroke="#000000" stroke-width="2.1"/>
<rect x="242" y="38.8" width="16" height="16" fill="#000000"/>
<text x="319.5" y="64.6" font-size="52" text-anchor="start" transform="translate(0 64.6) scale(1 1.05) translate(0 -64.6)"><tspan font-style="italic">x</tspan>=1</text>
<line x1="191" y1="110.9" x2="309.6" y2="110.9" stroke="#d90000" stroke-width="2.1"/>
<circle cx="250" cy="110.9" r="9" fill="#d90000"/>
<text x="319.5" y="128.7" font-size="52" text-anchor="start" transform="translate(0 128.7) scale(1 1.05) translate(0 -128.7)"><tspan font-style="italic">x</tspan>=2</text>
<line x1="191" y1="175.1" x2="309.6" y2="175.1" stroke="#8cff3a" stroke-width="2.1"/>
<path d="M250 162.63L260.8 181.33L239.2 181.33Z" fill="#8cff3a"/>
<text x="319.5" y="192.9" font-size="52" text-anchor="start" transform="translate(0 192.9) scale(1 1.05) translate(0 -192.9)"><tspan font-style="italic">x</tspan>=3</text>
<line x1="191" y1="239.6" x2="309.6" y2="239.6" stroke="#0000ff" stroke-width="2.1"/>
<path d="M250 252.07L260.8 233.37L239.2 233.37Z" fill="#0000ff"/>
<text x="319.5" y="257.4" font-size="52" text-anchor="start" transform="translate(0 257.4) scale(1 1.05) translate(0 -257.4)"><tspan font-style="italic">x</tspan>=4</text>
<text x="551.5" y="253.6" font-size="52" text-anchor="start" transform="translate(0 253.6) scale(1 1.05) translate(0 -253.6)"><tspan font-style="italic">p</tspan><tspan font-size="31" dy="18">in</tspan><tspan dy="-18">=1</tspan></text>
<text x="551.5" y="333.6" font-size="52" text-anchor="start" transform="translate(0 333.6) scale(1 1.05) translate(0 -333.6)"><tspan font-style="italic">p</tspan><tspan font-size="31" dy="18">out</tspan><tspan dy="-18">=0.01</tspan></text>
<rect x="1014.8" y="15.6" width="602.8" height="458.3" fill="none" stroke="#000" stroke-width="1.8"/>
<line x1="1014.8" y1="473.9" x2="1014.8" y2="478.9" stroke="#000" stroke-width="1.8"/>
<line x1="1023.8" y1="473.9" x2="1023.8" y2="478.9" stroke="#000" stroke-width="1.8"/>
<line x1="1031.42" y1="473.9" x2="1031.42" y2="478.9" stroke="#000" stroke-width="1.8"/>
<line x1="1038.01" y1="473.9" x2="1038.01" y2="478.9" stroke="#000" stroke-width="1.8"/>
<line x1="1043.83" y1="473.9" x2="1043.83" y2="478.9" stroke="#000" stroke-width="1.8"/>
<line x1="1049.03" y1="473.9" x2="1049.03" y2="482.9" stroke="#000" stroke-width="1.8"/>
<line x1="1083.26" y1="473.9" x2="1083.26" y2="478.9" stroke="#000" stroke-width="1.8"/>
<line x1="1103.29" y1="473.9" x2="1103.29" y2="478.9" stroke="#000" stroke-width="1.8"/>
<line x1="1117.49" y1="473.9" x2="1117.49" y2="478.9" stroke="#000" stroke-width="1.8"/>
<line x1="1128.51" y1="473.9" x2="1128.51" y2="478.9" stroke="#000" stroke-width="1.8"/>
<line x1="1137.52" y1="473.9" x2="1137.52" y2="478.9" stroke="#000" stroke-width="1.8"/>
<line x1="1145.13" y1="473.9" x2="1145.13" y2="478.9" stroke="#000" stroke-width="1.8"/>
<line x1="1151.72" y1="473.9" x2="1151.72" y2="478.9" stroke="#000" stroke-width="1.8"/>
<line x1="1157.54" y1="473.9" x2="1157.54" y2="478.9" stroke="#000" stroke-width="1.8"/>
<line x1="1162.74" y1="473.9" x2="1162.74" y2="482.9" stroke="#000" stroke-width="1.8"/>
<line x1="1196.98" y1="473.9" x2="1196.98" y2="478.9" stroke="#000" stroke-width="1.8"/>
<line x1="1217" y1="473.9" x2="1217" y2="478.9" stroke="#000" stroke-width="1.8"/>
<line x1="1231.21" y1="473.9" x2="1231.21" y2="478.9" stroke="#000" stroke-width="1.8"/>
<line x1="1242.23" y1="473.9" x2="1242.23" y2="478.9" stroke="#000" stroke-width="1.8"/>
<line x1="1251.23" y1="473.9" x2="1251.23" y2="478.9" stroke="#000" stroke-width="1.8"/>
<line x1="1258.84" y1="473.9" x2="1258.84" y2="478.9" stroke="#000" stroke-width="1.8"/>
<line x1="1265.44" y1="473.9" x2="1265.44" y2="478.9" stroke="#000" stroke-width="1.8"/>
<line x1="1271.26" y1="473.9" x2="1271.26" y2="478.9" stroke="#000" stroke-width="1.8"/>
<line x1="1276.46" y1="473.9" x2="1276.46" y2="482.9" stroke="#000" stroke-width="1.8"/>
<line x1="1310.69" y1="473.9" x2="1310.69" y2="478.9" stroke="#000" stroke-width="1.8"/>
<line x1="1330.71" y1="473.9" x2="1330.71" y2="478.9" stroke="#000" stroke-width="1.8"/>
<line x1="1344.92" y1="473.9" x2="1344.92" y2="478.9" stroke="#000" stroke-width="1.8"/>
<line x1="1355.94" y1="473.9" x2="1355.94" y2="478.9" stroke="#000" stroke-width="1.8"/>
<line x1="1364.95" y1="473.9" x2="1364.95" y2="478.9" stroke="#000" stroke-width="1.8"/>
<line x1="1372.56" y1="473.9" x2="1372.56" y2="478.9" stroke="#000" stroke-width="1.8"/>
<line x1="1379.15" y1="473.9" x2="1379.15" y2="478.9" stroke="#000" stroke-width="1.8"/>
<line x1="1384.97" y1="473.9" x2="1384.97" y2="478.9" stroke="#000" stroke-width="1.8"/>
<line x1="1390.17" y1="473.9" x2="1390.17" y2="482.9" stroke="#000" stroke-width="1.8"/>
<line x1="1424.4" y1="473.9" x2="1424.4" y2="478.9" stroke="#000" stroke-width="1.8"/>
<line x1="1444.43" y1="473.9" x2="1444.43" y2="478.9" stroke="#000" stroke-width="1.8"/>
<line x1="1458.63" y1="473.9" x2="1458.63" y2="478.9" stroke="#000" stroke-width="1.8"/>
<line x1="1469.66" y1="473.9" x2="1469.66" y2="478.9" stroke="#000" stroke-width="1.8"/>
<line x1="1478.66" y1="473.9" x2="1478.66" y2="478.9" stroke="#000" stroke-width="1.8"/>
<line x1="1486.27" y1="473.9" x2="1486.27" y2="478.9" stroke="#000" stroke-width="1.8"/>
<line x1="1492.87" y1="473.9" x2="1492.87" y2="478.9" stroke="#000" stroke-width="1.8"/>
<line x1="1498.68" y1="473.9" x2="1498.68" y2="478.9" stroke="#000" stroke-width="1.8"/>
<line x1="1503.89" y1="473.9" x2="1503.89" y2="482.9" stroke="#000" stroke-width="1.8"/>
<line x1="1538.12" y1="473.9" x2="1538.12" y2="478.9" stroke="#000" stroke-width="1.8"/>
<line x1="1558.14" y1="473.9" x2="1558.14" y2="478.9" stroke="#000" stroke-width="1.8"/>
<line x1="1572.35" y1="473.9" x2="1572.35" y2="478.9" stroke="#000" stroke-width="1.8"/>
<line x1="1583.37" y1="473.9" x2="1583.37" y2="478.9" stroke="#000" stroke-width="1.8"/>
<line x1="1592.37" y1="473.9" x2="1592.37" y2="478.9" stroke="#000" stroke-width="1.8"/>
<line x1="1599.99" y1="473.9" x2="1599.99" y2="478.9" stroke="#000" stroke-width="1.8"/>
<line x1="1606.58" y1="473.9" x2="1606.58" y2="478.9" stroke="#000" stroke-width="1.8"/>
<line x1="1612.4" y1="473.9" x2="1612.4" y2="478.9" stroke="#000" stroke-width="1.8"/>
<line x1="1617.6" y1="473.9" x2="1617.6" y2="482.9" stroke="#000" stroke-width="1.8"/>
<line x1="1009.8" y1="460.25" x2="1014.8" y2="460.25" stroke="#000" stroke-width="1.8"/>
<line x1="1612.6" y1="460.25" x2="1617.6" y2="460.25" stroke="#000" stroke-width="1.8"/>
<line x1="1005.8" y1="392.9" x2="1014.8" y2="392.9" stroke="#000" stroke-width="1.8"/>
<line x1="1608.6" y1="392.9" x2="1617.6" y2="392.9" stroke="#000" stroke-width="1.8"/>
<line x1="1009.8" y1="325.55" x2="1014.8" y2="325.55" stroke="#000" stroke-width="1.8"/>
<line x1="1612.6" y1="325.55" x2="1617.6" y2="325.55" stroke="#000" stroke-width="1.8"/>
<line x1="1005.8" y1="258.2" x2="1014.8" y2="258.2" stroke="#000" stroke-width="1.8"/>
<line x1="1608.6" y1="258.2" x2="1617.6" y2="258.2" stroke="#000" stroke-width="1.8"/>
<line x1="1009.8" y1="190.85" x2="1014.8" y2="190.85" stroke="#000" stroke-width="1.8"/>
<line x1="1612.6" y1="190.85" x2="1617.6" y2="190.85" stroke="#000" stroke-width="1.8"/>
<line x1="1005.8" y1="123.5" x2="1014.8" y2="123.5" stroke="#000" stroke-width="1.8"/>
<line x1="1608.6" y1="123.5" x2="1617.6" y2="123.5" stroke="#000" stroke-width="1.8"/>
<line x1="1009.8" y1="56.15" x2="1014.8" y2="56.15" stroke="#000" stroke-width="1.8"/>
<line x1="1612.6" y1="56.15" x2="1617.6" y2="56.15" stroke="#000" stroke-width="1.8"/>
<text x="1001" y="409.4" font-size="51.5" text-anchor="end" transform="translate(0 409.4) scale(1 1.05) translate(0 -409.4)">1.00</text>
<text x="1001" y="274.7" font-size="51.5" text-anchor="end" transform="translate(0 274.7) scale(1 1.05) translate(0 -274.7)">1.05</text>
<text x="1001" y="140" font-size="51.5" text-anchor="end" transform="translate(0 140) scale(1 1.05) translate(0 -140)">1.10</text>
<text x="1016.03" y="546.4" font-size="51.5" text-anchor="start" transform="translate(0 546.4) scale(1 1.05) translate(0 -546.4)">10<tspan font-size="31" dy="-26">2</tspan></text>
<text x="1129.74" y="546.4" font-size="51.5" text-anchor="start" transform="translate(0 546.4) scale(1 1.05) translate(0 -546.4)">10<tspan font-size="31" dy="-26">3</tspan></text>
<text x="1243.46" y="546.4" font-size="51.5" text-anchor="start" transform="translate(0 546.4) scale(1 1.05) translate(0 -546.4)">10<tspan font-size="31" dy="-26">4</tspan></text>
<text x="1357.17" y="546.4" font-size="51.5" text-anchor="start" transform="translate(0 546.4) scale(1 1.05) translate(0 -546.4)">10<tspan font-size="31" dy="-26">5</tspan></text>
<text x="1470.89" y="546.4" font-size="51.5" text-anchor="start" transform="translate(0 546.4) scale(1 1.05) translate(0 -546.4)">10<tspan font-size="31" dy="-26">6</tspan></text>
<text x="1584.6" y="546.4" font-size="51.5" text-anchor="start" transform="translate(0 546.4) scale(1 1.05) translate(0 -546.4)">10<tspan font-size="31" dy="-26">7</tspan></text>
<text transform="translate(1301 589.75) scale(1.154 1)" font-size="65.3" font-style="italic">r</text>
<text x="896.8" y="406.5" font-size="65" text-anchor="start" transform="rotate(-90 896.8 406.5) translate(896.8 406.5) scale(0.973 1) translate(-896.8 -406.5)">S(<tspan font-style="italic">r</tspan>, <tspan font-style="italic">x</tspan>)/S(<tspan font-style="italic">r</tspan>, 1)</text>
<text x="923.5" y="39.1" font-size="61.8" text-anchor="start">B</text>
<line x1="1014.8" y1="43.2" x2="1133.8" y2="43.2" stroke="#000000" stroke-width="2.1"/>
<rect x="1066.7" y="35.2" width="16" height="16" fill="#000000"/>
<text x="1145" y="61.2" font-size="52" text-anchor="start" transform="translate(0 61.2) scale(1 1.05) translate(0 -61.2)"><tspan font-style="italic">x</tspan>=1</text>
<line x1="1014.8" y1="107.7" x2="1133.8" y2="107.7" stroke="#d90000" stroke-width="2.1"/>
<circle cx="1074.7" cy="107.7" r="9" fill="#d90000"/>
<text x="1145" y="125.7" font-size="52" text-anchor="start" transform="translate(0 125.7) scale(1 1.05) translate(0 -125.7)"><tspan font-style="italic">x</tspan>=2</text>
<line x1="1014.8" y1="172.2" x2="1133.8" y2="172.2" stroke="#8cff3a" stroke-width="2.1"/>
<path d="M1074.7 159.73L1085.5 178.43L1063.9 178.43Z" fill="#8cff3a"/>
<text x="1145" y="190.2" font-size="52" text-anchor="start" transform="translate(0 190.2) scale(1 1.05) translate(0 -190.2)"><tspan font-style="italic">x</tspan>=3</text>
<line x1="1014.8" y1="236.6" x2="1133.8" y2="236.6" stroke="#0000ff" stroke-width="2.1"/>
<path d="M1074.7 249.07L1085.5 230.37L1063.9 230.37Z" fill="#0000ff"/>
<text x="1145" y="254.6" font-size="52" text-anchor="start" transform="translate(0 254.6) scale(1 1.05) translate(0 -254.6)"><tspan font-style="italic">x</tspan>=4</text>
<text x="1444" y="226" font-size="52.5" text-anchor="start" transform="translate(0 226) scale(1 1.05) translate(0 -226)"><tspan font-style="italic">p</tspan><tspan font-size="31" dy="18">in</tspan><tspan dy="-18">=0.8</tspan></text>
<text x="1444" y="305.4" font-size="52" text-anchor="start" transform="translate(0 305.4) scale(1 1.05) translate(0 -305.4)"><tspan font-style="italic">p</tspan><tspan font-size="31" dy="18">out</tspan><tspan dy="-18">=0.1</tspan></text>
<rect x="185" y="624.4" width="593" height="455" fill="none" stroke="#000" stroke-width="1.8"/>
<line x1="180" y1="624.4" x2="185" y2="624.4" stroke="#000" stroke-width="1.8"/>
<line x1="185" y1="1079.4" x2="185" y2="1088.4" stroke="#000" stroke-width="1.8"/>
<line x1="185" y1="624.4" x2="185" y2="633.4" stroke="#000" stroke-width="1.8"/>
<line x1="244.3" y1="1079.4" x2="244.3" y2="1084.4" stroke="#000" stroke-width="1.8"/>
<line x1="244.3" y1="624.4" x2="244.3" y2="629.4" stroke="#000" stroke-width="1.8"/>
<line x1="303.6" y1="1079.4" x2="303.6" y2="1088.4" stroke="#000" stroke-width="1.8"/>
<line x1="303.6" y1="624.4" x2="303.6" y2="633.4" stroke="#000" stroke-width="1.8"/>
<line x1="362.9" y1="1079.4" x2="362.9" y2="1084.4" stroke="#000" stroke-width="1.8"/>
<line x1="362.9" y1="624.4" x2="362.9" y2="629.4" stroke="#000" stroke-width="1.8"/>
<line x1="422.2" y1="1079.4" x2="422.2" y2="1088.4" stroke="#000" stroke-width="1.8"/>
<line x1="422.2" y1="624.4" x2="422.2" y2="633.4" stroke="#000" stroke-width="1.8"/>
<line x1="481.5" y1="1079.4" x2="481.5" y2="1084.4" stroke="#000" stroke-width="1.8"/>
<line x1="481.5" y1="624.4" x2="481.5" y2="629.4" stroke="#000" stroke-width="1.8"/>
<line x1="540.8" y1="1079.4" x2="540.8" y2="1088.4" stroke="#000" stroke-width="1.8"/>
<line x1="540.8" y1="624.4" x2="540.8" y2="633.4" stroke="#000" stroke-width="1.8"/>
<line x1="600.1" y1="1079.4" x2="600.1" y2="1084.4" stroke="#000" stroke-width="1.8"/>
<line x1="600.1" y1="624.4" x2="600.1" y2="629.4" stroke="#000" stroke-width="1.8"/>
<line x1="659.4" y1="1079.4" x2="659.4" y2="1088.4" stroke="#000" stroke-width="1.8"/>
<line x1="659.4" y1="624.4" x2="659.4" y2="633.4" stroke="#000" stroke-width="1.8"/>
<line x1="718.7" y1="1079.4" x2="718.7" y2="1084.4" stroke="#000" stroke-width="1.8"/>
<line x1="718.7" y1="624.4" x2="718.7" y2="629.4" stroke="#000" stroke-width="1.8"/>
<line x1="778" y1="1079.4" x2="778" y2="1088.4" stroke="#000" stroke-width="1.8"/>
<line x1="778" y1="624.4" x2="778" y2="633.4" stroke="#000" stroke-width="1.8"/>
<line x1="176" y1="1062" x2="185" y2="1062" stroke="#000" stroke-width="1.8"/>
<line x1="769" y1="1062" x2="778" y2="1062" stroke="#000" stroke-width="1.8"/>
<line x1="180" y1="974.4" x2="185" y2="974.4" stroke="#000" stroke-width="1.8"/>
<line x1="773" y1="974.4" x2="778" y2="974.4" stroke="#000" stroke-width="1.8"/>
<line x1="176" y1="886.8" x2="185" y2="886.8" stroke="#000" stroke-width="1.8"/>
<line x1="769" y1="886.8" x2="778" y2="886.8" stroke="#000" stroke-width="1.8"/>
<line x1="180" y1="799.2" x2="185" y2="799.2" stroke="#000" stroke-width="1.8"/>
<line x1="773" y1="799.2" x2="778" y2="799.2" stroke="#000" stroke-width="1.8"/>
<line x1="176" y1="711.6" x2="185" y2="711.6" stroke="#000" stroke-width="1.8"/>
<line x1="769" y1="711.6" x2="778" y2="711.6" stroke="#000" stroke-width="1.8"/>
<line x1="180" y1="624" x2="185" y2="624" stroke="#000" stroke-width="1.8"/>
<line x1="773" y1="624" x2="778" y2="624" stroke="#000" stroke-width="1.8"/>
<text x="169.5" y="1079" font-size="51.5" text-anchor="end" transform="translate(0 1079) scale(1 1.05) translate(0 -1079)">2</text>
<text x="169.5" y="903.8" font-size="51.5" text-anchor="end" transform="translate(0 903.8) scale(1 1.05) translate(0 -903.8)">3</text>
<text x="169.5" y="728.6" font-size="51.5" text-anchor="end" transform="translate(0 728.6) scale(1 1.05) translate(0 -728.6)">4</text>
<text x="185" y="1134.7" font-size="52.8" text-anchor="middle" transform="translate(0 1134.7) scale(1 1.05) translate(0 -1134.7)">0.0</text>
<text x="303.6" y="1134.7" font-size="52.8" text-anchor="middle" transform="translate(0 1134.7) scale(1 1.05) translate(0 -1134.7)">0.1</text>
<text x="422.2" y="1134.7" font-size="52.8" text-anchor="middle" transform="translate(0 1134.7) scale(1 1.05) translate(0 -1134.7)">0.2</text>
<text x="540.8" y="1134.7" font-size="52.8" text-anchor="middle" transform="translate(0 1134.7) scale(1 1.05) translate(0 -1134.7)">0.3</text>
<text x="659.4" y="1134.7" font-size="52.8" text-anchor="middle" transform="translate(0 1134.7) scale(1 1.05) translate(0 -1134.7)">0.4</text>
<text x="778" y="1134.7" font-size="52.8" text-anchor="middle" transform="translate(0 1134.7) scale(1 1.05) translate(0 -1134.7)">0.5</text>
<text x="421" y="1180" font-size="53" text-anchor="start"><tspan font-style="italic">p</tspan><tspan font-size="32" dy="19">out</tspan><tspan dy="-19">/</tspan><tspan font-style="italic">p</tspan><tspan font-size="32" dy="19">in</tspan></text>
<text x="123" y="926" font-size="65" text-anchor="start" transform="rotate(-90 123 926) translate(123 926) scale(0.975 1) translate(-123 -926)">S/m</text>
<text x="94.5" y="648.2" font-size="62.5" text-anchor="start">C</text>
<line x1="553" y1="654" x2="671.6" y2="654" stroke="#000000" stroke-width="2.1"/>
<rect x="604.4" y="646" width="16" height="16" fill="#000000"/>
<text x="681" y="672" font-size="52" text-anchor="start" transform="translate(0 672) scale(1 1.05) translate(0 -672)"><tspan font-style="italic">x</tspan>=1</text>
<line x1="553" y1="718.6" x2="671.6" y2="718.6" stroke="#d90000" stroke-width="2.1"/>
<circle cx="612.4" cy="718.6" r="9" fill="#d90000"/>
<text x="681" y="736.6" font-size="52" text-anchor="start" transform="translate(0 736.6) scale(1 1.05) translate(0 -736.6)"><tspan font-style="italic">x</tspan>=2</text>
<line x1="553" y1="783" x2="671.6" y2="783" stroke="#8cff3a" stroke-width="2.1"/>
<path d="M612.4 770.53L623.2 789.23L601.6 789.23Z" fill="#8cff3a"/>
<text x="681" y="801" font-size="52" text-anchor="start" transform="translate(0 801) scale(1 1.05) translate(0 -801)"><tspan font-style="italic">x</tspan>=3</text>
<line x1="553" y1="847.3" x2="671.6" y2="847.3" stroke="#0000ff" stroke-width="2.1"/>
<path d="M612.4 859.77L623.2 841.07L601.6 841.07Z" fill="#0000ff"/>
<text x="681" y="865.3" font-size="52" text-anchor="start" transform="translate(0 865.3) scale(1 1.05) translate(0 -865.3)"><tspan font-style="italic">x</tspan>=4</text>
<text x="554" y="929.1" font-size="52" text-anchor="start" transform="translate(0 929.1) scale(1 1.05) translate(0 -929.1)"><tspan font-style="italic">r</tspan> = 100</text>
<rect x="1014.3" y="619.2" width="605.5" height="457" fill="none" stroke="#000" stroke-width="1.8"/>
<line x1="1009.3" y1="619.2" x2="1624.8" y2="619.2" stroke="#000" stroke-width="1.8"/>
<line x1="1014.3" y1="1076.2" x2="1014.3" y2="1085.2" stroke="#000" stroke-width="1.8"/>
<line x1="1014.3" y1="619.2" x2="1014.3" y2="628.2" stroke="#000" stroke-width="1.8"/>
<line x1="1074.85" y1="1076.2" x2="1074.85" y2="1081.2" stroke="#000" stroke-width="1.8"/>
<line x1="1074.85" y1="619.2" x2="1074.85" y2="624.2" stroke="#000" stroke-width="1.8"/>
<line x1="1135.4" y1="1076.2" x2="1135.4" y2="1085.2" stroke="#000" stroke-width="1.8"/>
<line x1="1135.4" y1="619.2" x2="1135.4" y2="628.2" stroke="#000" stroke-width="1.8"/>
<line x1="1195.95" y1="1076.2" x2="1195.95" y2="1081.2" stroke="#000" stroke-width="1.8"/>
<line x1="1195.95" y1="619.2" x2="1195.95" y2="624.2" stroke="#000" stroke-width="1.8"/>
<line x1="1256.5" y1="1076.2" x2="1256.5" y2="1085.2" stroke="#000" stroke-width="1.8"/>
<line x1="1256.5" y1="619.2" x2="1256.5" y2="628.2" stroke="#000" stroke-width="1.8"/>
<line x1="1317.05" y1="1076.2" x2="1317.05" y2="1081.2" stroke="#000" stroke-width="1.8"/>
<line x1="1317.05" y1="619.2" x2="1317.05" y2="624.2" stroke="#000" stroke-width="1.8"/>
<line x1="1377.6" y1="1076.2" x2="1377.6" y2="1085.2" stroke="#000" stroke-width="1.8"/>
<line x1="1377.6" y1="619.2" x2="1377.6" y2="628.2" stroke="#000" stroke-width="1.8"/>
<line x1="1438.15" y1="1076.2" x2="1438.15" y2="1081.2" stroke="#000" stroke-width="1.8"/>
<line x1="1438.15" y1="619.2" x2="1438.15" y2="624.2" stroke="#000" stroke-width="1.8"/>
<line x1="1498.7" y1="1076.2" x2="1498.7" y2="1085.2" stroke="#000" stroke-width="1.8"/>
<line x1="1498.7" y1="619.2" x2="1498.7" y2="628.2" stroke="#000" stroke-width="1.8"/>
<line x1="1559.25" y1="1076.2" x2="1559.25" y2="1081.2" stroke="#000" stroke-width="1.8"/>
<line x1="1559.25" y1="619.2" x2="1559.25" y2="624.2" stroke="#000" stroke-width="1.8"/>
<line x1="1619.8" y1="1076.2" x2="1619.8" y2="1085.2" stroke="#000" stroke-width="1.8"/>
<line x1="1619.8" y1="619.2" x2="1619.8" y2="628.2" stroke="#000" stroke-width="1.8"/>
<line x1="1005.3" y1="1063.55" x2="1014.3" y2="1063.55" stroke="#000" stroke-width="1.8"/>
<line x1="1619.8" y1="1063.55" x2="1628.8" y2="1063.55" stroke="#000" stroke-width="1.8"/>
<line x1="1009.3" y1="1000.12" x2="1014.3" y2="1000.12" stroke="#000" stroke-width="1.8"/>
<line x1="1619.8" y1="1000.12" x2="1624.8" y2="1000.12" stroke="#000" stroke-width="1.8"/>
<line x1="1005.3" y1="936.7" x2="1014.3" y2="936.7" stroke="#000" stroke-width="1.8"/>
<line x1="1619.8" y1="936.7" x2="1628.8" y2="936.7" stroke="#000" stroke-width="1.8"/>
<line x1="1009.3" y1="873.27" x2="1014.3" y2="873.27" stroke="#000" stroke-width="1.8"/>
<line x1="1619.8" y1="873.27" x2="1624.8" y2="873.27" stroke="#000" stroke-width="1.8"/>
<line x1="1005.3" y1="809.85" x2="1014.3" y2="809.85" stroke="#000" stroke-width="1.8"/>
<line x1="1619.8" y1="809.85" x2="1628.8" y2="809.85" stroke="#000" stroke-width="1.8"/>
<line x1="1009.3" y1="746.42" x2="1014.3" y2="746.42" stroke="#000" stroke-width="1.8"/>
<line x1="1619.8" y1="746.42" x2="1624.8" y2="746.42" stroke="#000" stroke-width="1.8"/>
<line x1="1005.3" y1="683" x2="1014.3" y2="683" stroke="#000" stroke-width="1.8"/>
<line x1="1619.8" y1="683" x2="1628.8" y2="683" stroke="#000" stroke-width="1.8"/>
<line x1="1009.3" y1="619.58" x2="1014.3" y2="619.58" stroke="#000" stroke-width="1.8"/>
<line x1="1619.8" y1="619.58" x2="1624.8" y2="619.58" stroke="#000" stroke-width="1.8"/>
<text x="999" y="1080.55" font-size="51.5" text-anchor="end" transform="translate(0 1080.55) scale(1 1.05) translate(0 -1080.55)">6</text>
<text x="999" y="953.7" font-size="51.5" text-anchor="end" transform="translate(0 953.7) scale(1 1.05) translate(0 -953.7)">7</text>
<text x="999" y="826.85" font-size="51.5" text-anchor="end" transform="translate(0 826.85) scale(1 1.05) translate(0 -826.85)">8</text>
<text x="999" y="700" font-size="51.5" text-anchor="end" transform="translate(0 700) scale(1 1.05) translate(0 -700)">9</text>
<text x="1014.3" y="1131.4" font-size="52.8" text-anchor="middle" transform="translate(0 1131.4) scale(1 1.05) translate(0 -1131.4)">0.0</text>
<text x="1135.4" y="1131.4" font-size="52.8" text-anchor="middle" transform="translate(0 1131.4) scale(1 1.05) translate(0 -1131.4)">0.1</text>
<text x="1256.5" y="1131.4" font-size="52.8" text-anchor="middle" transform="translate(0 1131.4) scale(1 1.05) translate(0 -1131.4)">0.2</text>
<text x="1377.6" y="1131.4" font-size="52.8" text-anchor="middle" transform="translate(0 1131.4) scale(1 1.05) translate(0 -1131.4)">0.3</text>
<text x="1498.7" y="1131.4" font-size="52.8" text-anchor="middle" transform="translate(0 1131.4) scale(1 1.05) translate(0 -1131.4)">0.4</text>
<text x="1619.8" y="1131.4" font-size="52.8" text-anchor="middle" transform="translate(0 1131.4) scale(1 1.05) translate(0 -1131.4)">0.5</text>
<text x="1263.5" y="1180" font-size="53" text-anchor="start"><tspan font-style="italic">p</tspan><tspan font-size="32" dy="19">out</tspan><tspan dy="-19">/</tspan><tspan font-style="italic">p</tspan><tspan font-size="32" dy="19">in</tspan></text>
<text x="952.6" y="907" font-size="65" text-anchor="start" transform="rotate(-90 952.6 907) translate(952.6 907) scale(0.975 1) translate(-952.6 -907)">S/m</text>
<text x="925.3" y="648" font-size="61.8" text-anchor="start">D</text>
<line x1="1385.5" y1="649.4" x2="1503.5" y2="649.4" stroke="#000000" stroke-width="2.1"/>
<rect x="1436.7" y="641.4" width="16" height="16" fill="#000000"/>
<text x="1513" y="667.4" font-size="52" text-anchor="start" transform="translate(0 667.4) scale(1 1.05) translate(0 -667.4)"><tspan font-style="italic">x</tspan>=1</text>
<line x1="1385.5" y1="713.4" x2="1503.5" y2="713.4" stroke="#d90000" stroke-width="2.1"/>
<circle cx="1444.7" cy="713.4" r="9" fill="#d90000"/>
<text x="1513" y="731.4" font-size="52" text-anchor="start" transform="translate(0 731.4) scale(1 1.05) translate(0 -731.4)"><tspan font-style="italic">x</tspan>=2</text>
<line x1="1385.5" y1="778" x2="1503.5" y2="778" stroke="#8cff3a" stroke-width="2.1"/>
<path d="M1444.7 765.53L1455.5 784.23L1433.9 784.23Z" fill="#8cff3a"/>
<text x="1513" y="796" font-size="52" text-anchor="start" transform="translate(0 796) scale(1 1.05) translate(0 -796)"><tspan font-style="italic">x</tspan>=3</text>
<line x1="1385.5" y1="842.1" x2="1503.5" y2="842.1" stroke="#0000ff" stroke-width="2.1"/>
<path d="M1444.7 854.57L1455.5 835.87L1433.9 835.87Z" fill="#0000ff"/>
<text x="1513" y="860.1" font-size="52" text-anchor="start" transform="translate(0 860.1) scale(1 1.05) translate(0 -860.1)"><tspan font-style="italic">x</tspan>=4</text>
<text x="1386" y="924.3" font-size="52" text-anchor="start" transform="translate(0 924.3) scale(1 1.05) translate(0 -924.3)"><tspan font-style="italic">r</tspan> = 10000</text>
</g>
</svg>
</body></html>
